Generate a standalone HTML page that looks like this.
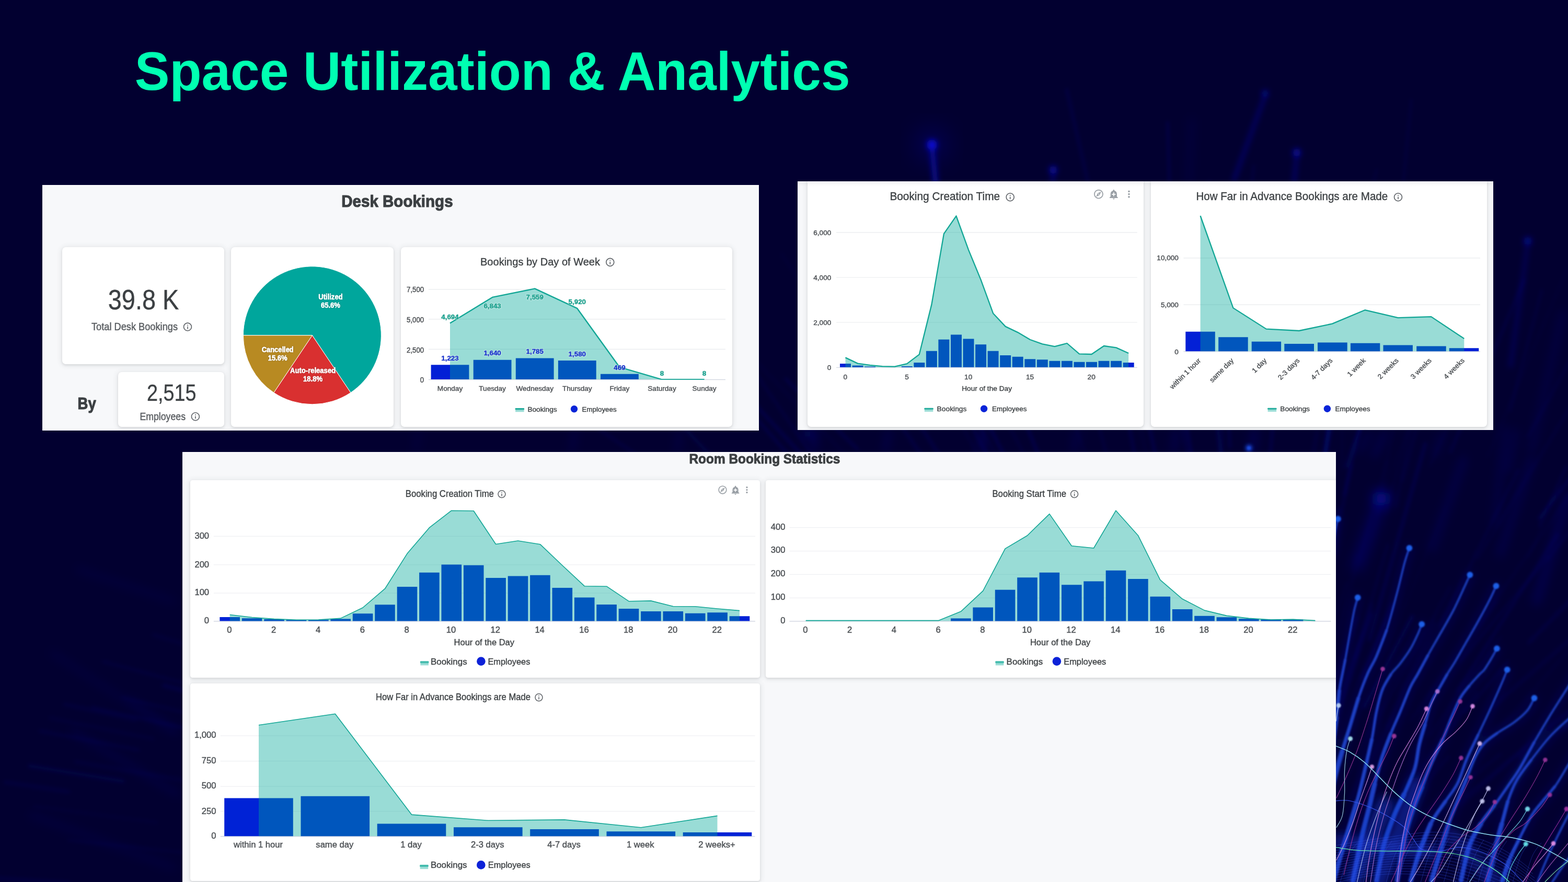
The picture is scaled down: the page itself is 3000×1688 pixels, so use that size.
<!DOCTYPE html>
<html lang="en"><head><meta charset="utf-8"><title>Space Utilization &amp; Analytics</title>
<style>
html,body{margin:0;padding:0;background:#020030;}
body{width:3000px;height:1688px;font-family:"Liberation Sans", Arial, sans-serif;}
#stage{width:3000px;height:1688px;overflow:hidden;position:relative;background:#020030;}
.panel{position:absolute;background:#f7f8fa;overflow:hidden;}
.panel:after{content:"";position:absolute;left:0;top:0;right:0;bottom:0;box-shadow:inset 3px 3px 3px -1px rgba(255,255,255,.55);pointer-events:none;}
.card{position:absolute;background:#fff;border-radius:7px;box-shadow:0 2px 4px rgba(60,64,67,.13),0 1px 10px 3px rgba(60,64,67,.075);}
svg{position:absolute;left:0;top:0;}
svg text{font-family:"Liberation Sans",Arial,sans-serif;}
.p3 text:not([stroke]){stroke:#3c4043;stroke-width:.55px;stroke-opacity:.65;}
.p12 text:not([stroke]){stroke:#3c4043;stroke-width:.5px;stroke-opacity:.7;}
h1{position:absolute;margin:0;left:257.7px;top:80.2px;font-size:100px;line-height:115px;font-weight:bold;color:#00ffb2;white-space:nowrap;letter-spacing:0;transform:scaleY(1.033);transform-origin:0 92.15px;}
</style></head><body><div id="stage">
<svg width="3000" height="1688" viewBox="0 0 3000 1688" style="position:absolute;left:0;top:0">
<defs><filter id="b1" x="-50%" y="-50%" width="200%" height="200%"><feGaussianBlur stdDeviation="1.1"/></filter><filter id="b15" x="-50%" y="-50%" width="200%" height="200%"><feGaussianBlur stdDeviation="1.5"/></filter><filter id="b3" x="-50%" y="-50%" width="200%" height="200%"><feGaussianBlur stdDeviation="3.5"/></filter><filter id="b6" x="-50%" y="-50%" width="200%" height="200%"><feGaussianBlur stdDeviation="5.5"/></filter><filter id="b12" x="-100%" y="-100%" width="300%" height="300%"><feGaussianBlur stdDeviation="12"/></filter><filter id="b8" x="-50%" y="-50%" width="200%" height="200%"><feGaussianBlur stdDeviation="9"/></filter><filter id="b20" x="-50%" y="-50%" width="200%" height="200%"><feGaussianBlur stdDeviation="22"/></filter><filter id="b08" x="-50%" y="-50%" width="200%" height="200%"><feGaussianBlur stdDeviation="0.8"/></filter><filter id="b05" x="-50%" y="-50%" width="200%" height="200%"><feGaussianBlur stdDeviation="0.5"/></filter></defs>
<g filter="url(#b3)" fill="none" stroke="#1a22d4" stroke-linecap="round">
<path d="M2146 976L2042 593" stroke-width="3.8" stroke-opacity="0.11"/>
<path d="M1730 1308L1482 1124" stroke-width="5.5" stroke-opacity="0.06"/>
<path d="M1365 1327L1091 1143" stroke-width="1.7" stroke-opacity="0.17"/>
<path d="M2568 899L2567 730" stroke-width="1.6" stroke-opacity="0.11"/>
<path d="M1945 1472L1855 1378" stroke-width="3.8" stroke-opacity="0.10"/>
<path d="M2271 868L2219 603" stroke-width="4.8" stroke-opacity="0.10"/>
<path d="M2145 1516L1928 1242" stroke-width="3.5" stroke-opacity="0.15"/>
<path d="M2993 1394L3097 1298" stroke-width="4.6" stroke-opacity="0.14"/>
<path d="M1788 1547L1414 1381" stroke-width="5.3" stroke-opacity="0.06"/>
<path d="M2039 1657L1721 1490" stroke-width="2.4" stroke-opacity="0.12"/>
<path d="M1569 1158L1442 1060" stroke-width="4.7" stroke-opacity="0.06"/>
<path d="M1944 1430L1658 1134" stroke-width="5.5" stroke-opacity="0.09"/>
<path d="M1850 1348L1595 1071" stroke-width="4.7" stroke-opacity="0.06"/>
<path d="M1953 1437L1678 1217" stroke-width="3.1" stroke-opacity="0.09"/>
<path d="M1567 1431L1393 1347" stroke-width="4.5" stroke-opacity="0.09"/>
<path d="M3036 1311L3243 1104" stroke-width="5.8" stroke-opacity="0.07"/>
<path d="M1412 1005L1094 785" stroke-width="4.5" stroke-opacity="0.10"/>
<path d="M1167 1400L997 1307" stroke-width="5.0" stroke-opacity="0.08"/>
<path d="M2429 1207L2423 1034" stroke-width="5.1" stroke-opacity="0.06"/>
<path d="M2352 649L2313 346" stroke-width="2.9" stroke-opacity="0.16"/>
<path d="M1808 1667L1564 1599" stroke-width="1.8" stroke-opacity="0.07"/>
<path d="M2395 1368L2399 1140" stroke-width="6.0" stroke-opacity="0.17"/>
<path d="M2640 947L2707 797" stroke-width="1.7" stroke-opacity="0.05"/>
<path d="M2765 589L2819 473" stroke-width="4.7" stroke-opacity="0.11"/>
<path d="M1654 725L1606 587" stroke-width="4.2" stroke-opacity="0.14"/>
<path d="M2775 865L2916 536" stroke-width="6.1" stroke-opacity="0.09"/>
<path d="M2480 1122L2520 830" stroke-width="4.5" stroke-opacity="0.06"/>
<path d="M2038 718L2002 577" stroke-width="5.3" stroke-opacity="0.05"/>
<path d="M2275 1283L2226 957" stroke-width="4.0" stroke-opacity="0.12"/>
<path d="M2159 1580L2011 1431" stroke-width="4.9" stroke-opacity="0.07"/>
<path d="M1809 1340L1530 1109" stroke-width="6.1" stroke-opacity="0.16"/>
<path d="M2409 1184L2429 1023" stroke-width="4.0" stroke-opacity="0.15"/>
<path d="M2790 610L2832 410" stroke-width="2.3" stroke-opacity="0.10"/>
<path d="M1840 1331L1629 1106" stroke-width="4.0" stroke-opacity="0.09"/>
<path d="M3038 1363L3135 1257" stroke-width="1.7" stroke-opacity="0.15"/>
<path d="M2671 970L2710 760" stroke-width="5.5" stroke-opacity="0.05"/>
<path d="M2298 1490L2177 1141" stroke-width="2.7" stroke-opacity="0.07"/>
<path d="M2494 1059L2561 756" stroke-width="4.8" stroke-opacity="0.15"/>
<path d="M2533 1317L2595 1062" stroke-width="2.4" stroke-opacity="0.05"/>
<path d="M2562 1346L2625 1155" stroke-width="3.2" stroke-opacity="0.13"/>
<path d="M2494 748L2481 508" stroke-width="5.5" stroke-opacity="0.16"/>
<path d="M1997 1024L1826 681" stroke-width="5.5" stroke-opacity="0.16"/>
<path d="M2493 1303L2561 973" stroke-width="5.6" stroke-opacity="0.13"/>
<path d="M1482 1002L1197 700" stroke-width="6.4" stroke-opacity="0.11"/>
<path d="M1707 797L1495 486" stroke-width="3.2" stroke-opacity="0.06"/>
<path d="M2332 734L2280 471" stroke-width="1.6" stroke-opacity="0.15"/>
<path d="M2653 1393L2746 1192" stroke-width="5.4" stroke-opacity="0.07"/>
<path d="M2253 786L2202 418" stroke-width="4.9" stroke-opacity="0.16"/>
<path d="M2726 1560L2871 1443" stroke-width="4.1" stroke-opacity="0.08"/>
<path d="M2522 986L2566 615" stroke-width="4.3" stroke-opacity="0.09"/>
<path d="M2395 1299L2369 1019" stroke-width="4.0" stroke-opacity="0.12"/>
<path d="M2506 1448L2596 1180" stroke-width="3.6" stroke-opacity="0.16"/>
<path d="M1871 1219L1787 1083" stroke-width="3.7" stroke-opacity="0.15"/>
<path d="M2249 1200L2191 1032" stroke-width="4.6" stroke-opacity="0.16"/>
<path d="M2565 1516L2639 1353" stroke-width="2.6" stroke-opacity="0.13"/>
<path d="M1933 1000L1860 867" stroke-width="5.2" stroke-opacity="0.06"/>
<path d="M2030 1446L1839 1243" stroke-width="3.7" stroke-opacity="0.10"/>
<path d="M2345 1343L2327 1163" stroke-width="4.7" stroke-opacity="0.13"/>
<path d="M2961 1069L3201 777" stroke-width="2.7" stroke-opacity="0.14"/>
<path d="M2849 1358L3012 1217" stroke-width="6.1" stroke-opacity="0.08"/>
<path d="M2714 1481L2825 1325" stroke-width="5.1" stroke-opacity="0.08"/>
<path d="M2822 1204L3028 912" stroke-width="2.1" stroke-opacity="0.10"/>
<path d="M1874 1686L1558 1609" stroke-width="6.1" stroke-opacity="0.17"/>
<path d="M2222 756L2143 495" stroke-width="4.9" stroke-opacity="0.07"/>
<path d="M2060 1663L1804 1538" stroke-width="4.1" stroke-opacity="0.12"/>
<path d="M1969 1501L1666 1285" stroke-width="6.5" stroke-opacity="0.16"/>
<path d="M1202 1340L963 1242" stroke-width="5.3" stroke-opacity="0.09"/>
<path d="M2291 1078L2272 777" stroke-width="1.6" stroke-opacity="0.13"/>
<path d="M1771 1349L1490 1154" stroke-width="3.5" stroke-opacity="0.07"/>
<path d="M2347 1488L2307 1102" stroke-width="5.5" stroke-opacity="0.13"/>
<path d="M2490 1101L2544 806" stroke-width="4.0" stroke-opacity="0.17"/>
<path d="M1565 904L1332 653" stroke-width="5.4" stroke-opacity="0.15"/>
<path d="M2537 1452L2603 1240" stroke-width="3.8" stroke-opacity="0.05"/>
<path d="M2536 886L2551 696" stroke-width="6.2" stroke-opacity="0.13"/>
<path d="M2572 947L2634 674" stroke-width="3.4" stroke-opacity="0.17"/>
<path d="M2709 782L2846 391" stroke-width="1.6" stroke-opacity="0.12"/>
<path d="M1901 1288L1795 1202" stroke-width="2.5" stroke-opacity="0.10"/>
<path d="M1554 923L1366 708" stroke-width="4.0" stroke-opacity="0.17"/>
<path d="M1204 1394L1047 1335" stroke-width="3.9" stroke-opacity="0.07"/>
<path d="M2432 1443L2468 1041" stroke-width="3.6" stroke-opacity="0.11"/>
<path d="M2107 1286L1972 999" stroke-width="4.3" stroke-opacity="0.08"/>
<path d="M2183 1557L2075 1397" stroke-width="1.7" stroke-opacity="0.07"/>
<path d="M1887 713L1784 382" stroke-width="1.8" stroke-opacity="0.17"/>
<path d="M1258 1328L1022 1246" stroke-width="3.9" stroke-opacity="0.17"/>
<path d="M2244 572L2234 234" stroke-width="3.8" stroke-opacity="0.17"/>
<path d="M2428 1386L2426 1078" stroke-width="3.8" stroke-opacity="0.07"/>
<path d="M2348 1379L2309 1128" stroke-width="4.8" stroke-opacity="0.10"/>
<path d="M2409 1081L2444 728" stroke-width="4.2" stroke-opacity="0.17"/>
<path d="M2606 1299L2665 1156" stroke-width="6.0" stroke-opacity="0.14"/>
<path d="M2105 1303L1958 1013" stroke-width="4.3" stroke-opacity="0.12"/>
<path d="M2610 1353L2702 1180" stroke-width="6.4" stroke-opacity="0.16"/>
<path d="M2014 1709L1820 1653" stroke-width="3.6" stroke-opacity="0.12"/>
<path d="M2366 1429L2359 1283" stroke-width="4.9" stroke-opacity="0.12"/>
<path d="M2030 1108L1967 935" stroke-width="3.2" stroke-opacity="0.14"/>
<path d="M1973 1654L1638 1516" stroke-width="4.6" stroke-opacity="0.14"/>
<path d="M2194 1278L2097 927" stroke-width="3.3" stroke-opacity="0.13"/>
<path d="M1915 1094L1721 810" stroke-width="6.1" stroke-opacity="0.10"/>
<path d="M1314 1282L1187 1217" stroke-width="1.9" stroke-opacity="0.12"/>
<path d="M2558 1221L2653 881" stroke-width="1.9" stroke-opacity="0.08"/>
<path d="M1810 1567L1497 1441" stroke-width="5.0" stroke-opacity="0.08"/>
<path d="M1887 904L1782 700" stroke-width="2.1" stroke-opacity="0.14"/>
<path d="M1984 1226L1754 899" stroke-width="6.0" stroke-opacity="0.08"/>
<path d="M2071 1217L1964 1004" stroke-width="3.4" stroke-opacity="0.07"/>
<path d="M2827 1068L3021 752" stroke-width="4.3" stroke-opacity="0.07"/>
<path d="M2802 1363L2885 1267" stroke-width="4.1" stroke-opacity="0.12"/>
<path d="M2012 1661L1708 1507" stroke-width="6.0" stroke-opacity="0.06"/>
<path d="M1488 1242L1239 1049" stroke-width="2.7" stroke-opacity="0.08"/>
<path d="M2260 744L2244 506" stroke-width="3.2" stroke-opacity="0.17"/>
<path d="M2233 978L2164 649" stroke-width="5.0" stroke-opacity="0.16"/>
<path d="M2945 992L3174 692" stroke-width="5.5" stroke-opacity="0.15"/>
<path d="M2228 1385L2093 1070" stroke-width="6.5" stroke-opacity="0.10"/>
<path d="M1820 1336L1657 1207" stroke-width="6.3" stroke-opacity="0.06"/>
<path d="M1535 1352L1228 1179" stroke-width="2.4" stroke-opacity="0.06"/>
<path d="M2420 591L2399 460" stroke-width="2.0" stroke-opacity="0.07"/>
<path d="M1653 1087L1432 887" stroke-width="2.6" stroke-opacity="0.07"/>
<path d="M1520 1177L1350 1048" stroke-width="4.2" stroke-opacity="0.15"/>
<path d="M1586 918L1361 592" stroke-width="3.2" stroke-opacity="0.12"/>
<path d="M2279 1292L2245 1161" stroke-width="6.2" stroke-opacity="0.15"/>
<path d="M2303 990L2264 791" stroke-width="6.5" stroke-opacity="0.13"/>
<path d="M1611 1618L1391 1546" stroke-width="5.5" stroke-opacity="0.14"/>
<path d="M1987 1556L1811 1430" stroke-width="2.8" stroke-opacity="0.15"/>
<path d="M2582 519L2634 325" stroke-width="4.2" stroke-opacity="0.07"/>
<path d="M1269 1543L903 1466" stroke-width="5.6" stroke-opacity="0.06"/>
<path d="M2539 1425L2625 1175" stroke-width="3.8" stroke-opacity="0.16"/>
<path d="M2788 1324L2980 1023" stroke-width="3.6" stroke-opacity="0.16"/>
<path d="M2699 1379L2865 1149" stroke-width="4.1" stroke-opacity="0.07"/>
<path d="M2026 1306L1953 1182" stroke-width="3.0" stroke-opacity="0.11"/>
<path d="M1909 936L1867 787" stroke-width="3.5" stroke-opacity="0.11"/>
<path d="M2945 1007L2997 893" stroke-width="3.4" stroke-opacity="0.14"/>
<path d="M2377 1042L2357 920" stroke-width="6.5" stroke-opacity="0.15"/>
<path d="M2457 1212L2469 980" stroke-width="4.2" stroke-opacity="0.09"/>
<path d="M1986 921L1895 747" stroke-width="2.5" stroke-opacity="0.14"/>
<path d="M2029 1606L1756 1432" stroke-width="5.0" stroke-opacity="0.07"/>
<path d="M2924 1067L2986 931" stroke-width="2.6" stroke-opacity="0.07"/>
<path d="M2241 1458L2098 1089" stroke-width="3.6" stroke-opacity="0.11"/>
<path d="M2889 786L2950 555" stroke-width="3.2" stroke-opacity="0.10"/>
<path d="M1991 883L1839 497" stroke-width="5.4" stroke-opacity="0.13"/>
<path d="M1750 1646L1536 1586" stroke-width="4.8" stroke-opacity="0.06"/>
<path d="M2226 725L2194 358" stroke-width="4.6" stroke-opacity="0.07"/>
<path d="M3006 1187L3168 1030" stroke-width="4.0" stroke-opacity="0.07"/>
<path d="M2462 1306L2487 1163" stroke-width="2.7" stroke-opacity="0.12"/>
<path d="M1718 768L1633 552" stroke-width="3.8" stroke-opacity="0.06"/>
<path d="M1344 1174L1094 1040" stroke-width="4.3" stroke-opacity="0.12"/>
<path d="M1641 860L1503 725" stroke-width="4.4" stroke-opacity="0.15"/>
<path d="M2372 1425L2378 1295" stroke-width="2.4" stroke-opacity="0.17"/>
<path d="M2521 1204L2585 889" stroke-width="5.2" stroke-opacity="0.10"/>
<path d="M2580 1531L2666 1373" stroke-width="3.8" stroke-opacity="0.07"/>
<path d="M2391 1326L2379 1051" stroke-width="2.8" stroke-opacity="0.12"/>
<path d="M2457 1466L2508 1149" stroke-width="2.2" stroke-opacity="0.17"/>
<path d="M2217 1111L2159 809" stroke-width="4.9" stroke-opacity="0.14"/>
<path d="M2124 534L2041 172" stroke-width="5.8" stroke-opacity="0.10"/>
<path d="M2369 595L2399 317" stroke-width="4.1" stroke-opacity="0.10"/>
<path d="M2178 1512L1996 1227" stroke-width="6.0" stroke-opacity="0.14"/>
<path d="M2653 1246L2766 970" stroke-width="1.8" stroke-opacity="0.06"/>
<path d="M2275 1114L2238 983" stroke-width="5.0" stroke-opacity="0.11"/>
<path d="M1970 1241L1882 1070" stroke-width="1.8" stroke-opacity="0.16"/>
<path d="M2643 658L2714 421" stroke-width="5.5" stroke-opacity="0.08"/>
<path d="M2371 597L2371 447" stroke-width="5.5" stroke-opacity="0.06"/>
<path d="M2663 1618L2798 1480" stroke-width="3.0" stroke-opacity="0.09"/>
<path d="M1220 1443L1033 1334" stroke-width="4.0" stroke-opacity="0.16"/>
<path d="M2270 1309L2207 1110" stroke-width="6.1" stroke-opacity="0.16"/>
<path d="M2793 1266L2963 1065" stroke-width="2.4" stroke-opacity="0.16"/>
<path d="M1662 1202L1510 1106" stroke-width="5.9" stroke-opacity="0.06"/>
<path d="M2620 1224L2727 849" stroke-width="5.8" stroke-opacity="0.14"/>
<path d="M2744 609L2794 360" stroke-width="1.9" stroke-opacity="0.08"/>
<path d="M2563 1328L2627 1166" stroke-width="2.7" stroke-opacity="0.13"/>
<path d="M1947 945L1760 608" stroke-width="4.4" stroke-opacity="0.08"/>
<path d="M2132 1014L2033 752" stroke-width="1.7" stroke-opacity="0.12"/>
<path d="M1623 998L1510 904" stroke-width="2.9" stroke-opacity="0.14"/>
<path d="M1838 1149L1705 1031" stroke-width="6.0" stroke-opacity="0.17"/>
<path d="M2115 787L2030 566" stroke-width="6.1" stroke-opacity="0.11"/>
<path d="M2353 856L2343 628" stroke-width="4.8" stroke-opacity="0.14"/>
<path d="M2207 670L2126 354" stroke-width="4.1" stroke-opacity="0.16"/>
<path d="M2629 1388L2775 1123" stroke-width="2.7" stroke-opacity="0.10"/>
<path d="M2923 836L3016 669" stroke-width="3.9" stroke-opacity="0.08"/>
<path d="M2332 1471L2295 1174" stroke-width="5.1" stroke-opacity="0.12"/>
<path d="M2007 1538L1907 1462" stroke-width="4.0" stroke-opacity="0.10"/>
<path d="M1649 981L1559 871" stroke-width="6.0" stroke-opacity="0.12"/>
<path d="M2675 1330L2744 1182" stroke-width="3.1" stroke-opacity="0.06"/>
<path d="M2488 979L2528 783" stroke-width="4.4" stroke-opacity="0.06"/>
<path d="M1919 1483L1793 1371" stroke-width="5.0" stroke-opacity="0.15"/>
<path d="M1700 1553L1478 1489" stroke-width="2.6" stroke-opacity="0.17"/>
<path d="M2181 761L2121 349" stroke-width="2.2" stroke-opacity="0.10"/>
<path d="M1845 1647L1478 1525" stroke-width="2.2" stroke-opacity="0.10"/>
<path d="M2255 1449L2219 1324" stroke-width="6.5" stroke-opacity="0.14"/>
<path d="M1973 1424L1787 1207" stroke-width="2.7" stroke-opacity="0.11"/>
<path d="M2081 1242L1883 878" stroke-width="4.6" stroke-opacity="0.05"/>
<path d="M2467 1447L2507 1228" stroke-width="5.0" stroke-opacity="0.15"/>
<path d="M2925 1230L3092 1060" stroke-width="5.7" stroke-opacity="0.10"/>
<path d="M1890 1374L1751 1266" stroke-width="4.2" stroke-opacity="0.07"/>
<path d="M1801 1294L1653 1141" stroke-width="3.7" stroke-opacity="0.17"/>
<path d="M2735 1408L2872 1217" stroke-width="1.9" stroke-opacity="0.13"/>
<path d="M2166 1565L2067 1421" stroke-width="2.8" stroke-opacity="0.10"/>
<path d="M2591 1262L2655 1042" stroke-width="2.3" stroke-opacity="0.16"/>
<path d="M2846 874L2999 513" stroke-width="1.6" stroke-opacity="0.09"/>
<path d="M1291 1313L1078 1254" stroke-width="5.4" stroke-opacity="0.11"/>
<path d="M2163 1312L2091 1199" stroke-width="2.3" stroke-opacity="0.12"/>
<path d="M1963 1211L1790 986" stroke-width="2.2" stroke-opacity="0.13"/>
<path d="M2736 891L2805 741" stroke-width="2.5" stroke-opacity="0.08"/>
<path d="M2120 1169L1967 821" stroke-width="2.6" stroke-opacity="0.09"/>
<path d="M2114 1583L2028 1489" stroke-width="4.7" stroke-opacity="0.12"/>
<path d="M2910 1449L3169 1260" stroke-width="6.1" stroke-opacity="0.08"/>
<path d="M2664 572L2700 191" stroke-width="2.7" stroke-opacity="0.13"/>
<path d="M2153 1150L2107 1020" stroke-width="3.4" stroke-opacity="0.09"/>
<path d="M2083 1453L1938 1260" stroke-width="3.9" stroke-opacity="0.07"/>
<path d="M2093 1530L1941 1368" stroke-width="3.6" stroke-opacity="0.07"/>
<path d="M2652 983L2734 663" stroke-width="1.6" stroke-opacity="0.10"/>
<path d="M1707 1553L1581 1501" stroke-width="4.0" stroke-opacity="0.12"/>
<path d="M2074 1342L2008 1234" stroke-width="3.2" stroke-opacity="0.16"/>
<path d="M1733 1081L1642 927" stroke-width="3.8" stroke-opacity="0.12"/>
<path d="M1967 1031L1788 671" stroke-width="5.4" stroke-opacity="0.13"/>
<path d="M2118 1138L2038 952" stroke-width="5.6" stroke-opacity="0.16"/>
<path d="M2666 1567L2773 1447" stroke-width="4.0" stroke-opacity="0.09"/>
<path d="M2794 1542L2927 1424" stroke-width="2.6" stroke-opacity="0.13"/>
<path d="M1537 1617L1310 1545" stroke-width="2.7" stroke-opacity="0.11"/>
<path d="M2336 878L2305 591" stroke-width="5.7" stroke-opacity="0.17"/>
<path d="M1783 779L1690 585" stroke-width="5.1" stroke-opacity="0.13"/>
<path d="M2112 1283L1942 983" stroke-width="4.2" stroke-opacity="0.08"/>
<path d="M2114 1406L1949 1187" stroke-width="2.1" stroke-opacity="0.06"/>
<path d="M1471 1350L1335 1278" stroke-width="3.8" stroke-opacity="0.14"/>
<path d="M1418 1133L1110 908" stroke-width="1.8" stroke-opacity="0.08"/>
<path d="M2755 1198L2905 899" stroke-width="2.8" stroke-opacity="0.14"/>
<path d="M1819 905L1617 591" stroke-width="5.6" stroke-opacity="0.12"/>
<path d="M2683 919L2781 563" stroke-width="5.5" stroke-opacity="0.07"/>
<path d="M2521 1282L2577 1115" stroke-width="1.6" stroke-opacity="0.12"/>
<path d="M2777 1547L3028 1338" stroke-width="3.6" stroke-opacity="0.13"/>
<path d="M1737 996L1447 692" stroke-width="2.1" stroke-opacity="0.09"/>
<path d="M2335 1019L2339 787" stroke-width="3.0" stroke-opacity="0.15"/>
<path d="M1942 1266L1748 1031" stroke-width="5.3" stroke-opacity="0.17"/>
<path d="M2635 986L2701 631" stroke-width="2.2" stroke-opacity="0.07"/>
<path d="M2835 1435L3011 1233" stroke-width="2.1" stroke-opacity="0.09"/>
<path d="M2388 1357L2379 1049" stroke-width="2.9" stroke-opacity="0.08"/>
<path d="M2119 1309L2049 1193" stroke-width="1.8" stroke-opacity="0.16"/>
<path d="M1918 1623L1686 1495" stroke-width="6.5" stroke-opacity="0.07"/>
<path d="M2240 1102L2168 747" stroke-width="3.5" stroke-opacity="0.06"/>
<path d="M2576 893L2646 700" stroke-width="6.2" stroke-opacity="0.15"/>
<path d="M2046 720L1917 408" stroke-width="2.4" stroke-opacity="0.05"/>
<path d="M2034 1635L1838 1519" stroke-width="5.3" stroke-opacity="0.09"/>
<path d="M1863 1692L1477 1560" stroke-width="1.6" stroke-opacity="0.11"/>
<path d="M235 1495L57 1466" stroke-width="7.0" stroke-opacity="0.11"/>
<path d="M130 1515L11 1497" stroke-width="7.8" stroke-opacity="0.07"/>
<path d="M411 1638L131 1608" stroke-width="3.1" stroke-opacity="0.09"/>
<path d="M387 2263L216 2298" stroke-width="6.3" stroke-opacity="0.10"/>
<path d="M259 2094L89 2114" stroke-width="4.4" stroke-opacity="0.11"/>
<path d="M482 2123L316 2147" stroke-width="6.7" stroke-opacity="0.06"/>
<path d="M300 1574L66 1543" stroke-width="3.9" stroke-opacity="0.05"/>
<path d="M427 2368L247 2415" stroke-width="3.0" stroke-opacity="0.08"/>
<path d="M379 2029L173 2048" stroke-width="7.8" stroke-opacity="0.06"/>
<path d="M420 1408L176 1354" stroke-width="3.5" stroke-opacity="0.12"/>
<path d="M121 2013L-23 2023" stroke-width="5.0" stroke-opacity="0.10"/>
<path d="M446 2316L217 2371" stroke-width="7.7" stroke-opacity="0.07"/>
<path d="M411 2317L121 2385" stroke-width="3.7" stroke-opacity="0.09"/>
<path d="M254 2076L113 2091" stroke-width="6.1" stroke-opacity="0.11"/>
<path d="M293 1414L96 1374" stroke-width="5.8" stroke-opacity="0.05"/>
<path d="M264 1435L77 1399" stroke-width="6.3" stroke-opacity="0.07"/>
<path d="M418 2050L199 2072" stroke-width="5.9" stroke-opacity="0.08"/>
<path d="M364 2543L185 2605" stroke-width="6.0" stroke-opacity="0.09"/>
<path d="M501 1360L314 1312" stroke-width="8.0" stroke-opacity="0.10"/>
<path d="M229 2171L-66 2215" stroke-width="5.0" stroke-opacity="0.11"/>
<path d="M185 2456L-6 2509" stroke-width="4.2" stroke-opacity="0.11"/>
<path d="M131 1690L-135 1672" stroke-width="7.0" stroke-opacity="0.08"/>
<path d="M556 1294L294 1215" stroke-width="6.6" stroke-opacity="0.06"/>
<path d="M349 1493L145 1458" stroke-width="7.3" stroke-opacity="0.06"/>
<path d="M273 2212L160 2231" stroke-width="5.8" stroke-opacity="0.10"/>
<path d="M404 1914L144 1923" stroke-width="7.3" stroke-opacity="0.10"/>
<path d="M138 1837L-122 1836" stroke-width="3.8" stroke-opacity="0.07"/>
<path d="M562 2387L400 2434" stroke-width="7.3" stroke-opacity="0.11"/>
<path d="M501 2382L329 2430" stroke-width="7.2" stroke-opacity="0.09"/>
<path d="M523 1404L234 1335" stroke-width="4.0" stroke-opacity="0.09"/>
<path d="M260 1378L124 1348" stroke-width="6.3" stroke-opacity="0.07"/>
<path d="M480 2527L326 2582" stroke-width="6.1" stroke-opacity="0.06"/>
<path d="M224 1762L88 1757" stroke-width="3.6" stroke-opacity="0.10"/>
<path d="M451 1943L328 1949" stroke-width="7.7" stroke-opacity="0.09"/>
<path d="M435 2083L138 2119" stroke-width="6.5" stroke-opacity="0.10"/>
<path d="M390 2085L209 2106" stroke-width="3.7" stroke-opacity="0.09"/>
<path d="M178 2016L-3 2030" stroke-width="5.3" stroke-opacity="0.08"/>
<path d="M429 1328L197 1266" stroke-width="4.2" stroke-opacity="0.09"/>
<path d="M182 2220L26 2245" stroke-width="7.3" stroke-opacity="0.09"/>
<path d="M130 1976L-47 1985" stroke-width="6.7" stroke-opacity="0.09"/>
</g>
<g filter="url(#b8)" fill="none">
<circle cx="1545" cy="830" r="10" fill="#1418d8" fill-opacity="0.25"/>
<path d="M2280 230L2275 350" stroke="#1418d0" stroke-width="8" stroke-opacity="0.12" stroke-linecap="round"/>
<path d="M2800 880L2740 1050" stroke="#1418d0" stroke-width="14" stroke-opacity="0.14" stroke-linecap="round"/>
<path d="M2930 880L2870 1060" stroke="#1418d0" stroke-width="14" stroke-opacity="0.14" stroke-linecap="round"/>
<path d="M3000 950L2940 1150" stroke="#1418d0" stroke-width="18" stroke-opacity="0.16" stroke-linecap="round"/>
<path d="M2880 820L2860 1000" stroke="#1418d0" stroke-width="12" stroke-opacity="0.12" stroke-linecap="round"/>
<path d="M2650 830L2630 870" stroke="#1418d0" stroke-width="12" stroke-opacity="0.16" stroke-linecap="round"/>
<path d="M2760 830L2745 870" stroke="#1418d0" stroke-width="10" stroke-opacity="0.14" stroke-linecap="round"/>
<path d="M2990 600L2930 860" stroke="#1418d0" stroke-width="12" stroke-opacity="0.12" stroke-linecap="round"/>
<path d="M1560 826L1556 862" stroke="#1418d0" stroke-width="10" stroke-opacity="0.2" stroke-linecap="round"/>
<path d="M1700 826L1694 862" stroke="#1418d0" stroke-width="10" stroke-opacity="0.16" stroke-linecap="round"/>
<path d="M1880 826L1876 862" stroke="#1418d0" stroke-width="10" stroke-opacity="0.18" stroke-linecap="round"/>
<path d="M2060 826L2056 862" stroke="#1418d0" stroke-width="10" stroke-opacity="0.16" stroke-linecap="round"/>
<path d="M2250 826L2246 862" stroke="#1418d0" stroke-width="10" stroke-opacity="0.18" stroke-linecap="round"/>
<path d="M2400 826L2396 862" stroke="#1418d0" stroke-width="12" stroke-opacity="0.2" stroke-linecap="round"/>
<path d="M1100 826L1094 862" stroke="#1418d0" stroke-width="10" stroke-opacity="0.12" stroke-linecap="round"/>
<path d="M1300 826L1296 862" stroke="#1418d0" stroke-width="10" stroke-opacity="0.12" stroke-linecap="round"/>
<path d="M800 826L796 862" stroke="#1418d0" stroke-width="10" stroke-opacity="0.08" stroke-linecap="round"/>
<path d="M2620 830L2600 862" stroke="#1418d0" stroke-width="10" stroke-opacity="0.16" stroke-linecap="round"/>
<path d="M2900 826L2885 900" stroke="#1418d0" stroke-width="10" stroke-opacity="0.14" stroke-linecap="round"/>
<path d="M150 1090L330 1150" stroke="#1418d0" stroke-width="8" stroke-opacity="0.1" stroke-linecap="round"/>
<path d="M100 1250L330 1400" stroke="#1418d0" stroke-width="8" stroke-opacity="0.1" stroke-linecap="round"/>
<path d="M140 1400L340 1520" stroke="#1418d0" stroke-width="9" stroke-opacity="0.12" stroke-linecap="round"/>
<path d="M60 1560L330 1660" stroke="#1418d0" stroke-width="9" stroke-opacity="0.1" stroke-linecap="round"/>
<path d="M250 1340L340 1400" stroke="#1418d0" stroke-width="8" stroke-opacity="0.1" stroke-linecap="round"/>
</g>
<g filter="url(#b6)" fill="#0c12dc" stroke="#0c12dc" stroke-linecap="round">
<circle cx="1783" cy="277" r="10" fill-opacity="0.95" stroke="none"/>
<path d="M1783 281L1790 350" fill="none" stroke-width="10" stroke-opacity="0.55"/>
<circle cx="2015" cy="325" r="8" fill-opacity="0.55" stroke="none"/>
<path d="M2015 329L2014 350" fill="none" stroke-width="8" stroke-opacity="0.3"/>
<circle cx="2420.5" cy="178.6" r="7" fill-opacity="0.38" stroke="none"/>
<path d="M2420.5 182.6L2361 344" fill="none" stroke-width="7" stroke-opacity="0.32"/>
<circle cx="2481" cy="292" r="8" fill-opacity="0.55" stroke="none"/>
<path d="M2481 296L2476 348" fill="none" stroke-width="7" stroke-opacity="0.32"/>
<circle cx="2923" cy="461" r="8" fill-opacity="0.42" stroke="none"/>
<path d="M2923 465L2890 700" fill="none" stroke-width="8" stroke-opacity="0.2"/>
</g>
<circle cx="1783" cy="277" r="30" fill="#0c12dc" fill-opacity=".22" filter="url(#b20)"/>
<g filter="url(#b12)"><circle cx="2643" cy="954" r="13" fill="#1014cc" fill-opacity=".9"/><path d="M2640 965L2596 1085" stroke="#1014cc" stroke-width="14" stroke-opacity=".4" stroke-linecap="round" fill="none"/></g>
<circle cx="2389.5" cy="857.5" r="6.5" fill="#1a48e0" fill-opacity=".9" filter="url(#b3)"/>
<circle cx="2389.5" cy="857.5" r="3.6" fill="#1c50e4" fill-opacity=".7" filter="url(#b15)"/>
<g fill="none" stroke-linecap="round" stroke-linejoin="round">
<g filter="url(#b8)" stroke="#1426b8" stroke-opacity=".24" stroke-width="12">
<path d="M2597.7 1143.6C2596.6 1147.8 2593.5 1156.9 2590.9 1168.5C2588.4 1180.2 2585.3 1198.2 2582.4 1213.8C2579.6 1229.4 2576.3 1249.2 2573.9 1261.9C2571.6 1274.6 2570.2 1280.1 2568.3 1289.9C2566.4 1299.6 2564.5 1306.9 2562.6 1320.4C2560.7 1334.0 2559.3 1352.0 2557.0 1371.4C2554.6 1390.7 2551.3 1414.3 2548.5 1436.4C2545.7 1458.6 2541.4 1493.0 2540.0 1504.3"/>
<path d="M2696.4 1048.9C2694.9 1053.7 2691.0 1063.7 2687.1 1078.0C2683.2 1092.3 2678.6 1113.4 2673.0 1134.6C2667.3 1155.8 2659.8 1185.0 2653.2 1205.3C2646.6 1225.6 2639.5 1242.1 2633.4 1256.2C2627.2 1270.3 2622.0 1276.8 2616.4 1289.9C2610.7 1302.9 2605.1 1317.7 2599.4 1334.6C2593.7 1351.5 2587.6 1374.2 2582.4 1391.2C2577.2 1408.1 2572.5 1422.3 2568.3 1436.4C2564.0 1450.6 2561.2 1460.0 2557.0 1476.0C2552.7 1492.0 2545.2 1523.2 2542.8 1532.6"/>
<path d="M2720.2 1194.6C2718.9 1197.8 2716.2 1205.9 2712.6 1213.8C2708.9 1221.7 2704.1 1232.7 2698.4 1242.1C2692.8 1251.5 2684.7 1262.4 2678.6 1270.4C2672.5 1278.3 2667.3 1281.5 2661.6 1289.9C2656.0 1298.2 2649.4 1308.3 2644.7 1320.4C2640.0 1332.6 2636.7 1347.3 2633.4 1362.9C2630.1 1378.4 2628.6 1394.9 2624.9 1413.8C2621.1 1432.6 2615.4 1456.2 2610.7 1476.0C2606.0 1495.8 2601.8 1513.7 2596.6 1532.6C2591.4 1551.5 2585.3 1570.3 2579.6 1589.2C2573.9 1608.0 2567.3 1629.3 2562.6 1645.8C2557.9 1662.2 2553.2 1680.9 2551.3 1687.9"/>
<path d="M2812.4 1100.1C2810.9 1103.5 2808.4 1109.0 2803.1 1120.5C2797.8 1131.9 2788.5 1153.0 2780.5 1168.5C2772.4 1184.1 2763.0 1199.7 2755.0 1213.8C2747.0 1227.9 2739.4 1240.7 2732.4 1253.4C2725.3 1266.1 2718.2 1279.7 2712.6 1289.9C2706.9 1300.1 2704.1 1302.6 2698.4 1314.8C2692.8 1326.9 2684.7 1348.2 2678.6 1362.9C2672.5 1377.5 2667.3 1388.3 2661.6 1402.5C2656.0 1416.6 2649.9 1431.7 2644.7 1447.7C2639.5 1463.8 2634.8 1482.1 2630.5 1498.7C2626.3 1515.2 2623.5 1529.3 2619.2 1546.7C2615.0 1564.2 2610.2 1579.8 2605.1 1603.3C2599.9 1626.8 2590.9 1673.8 2588.1 1687.9"/>
<path d="M2862.5 1121.3C2860.6 1125.4 2856.8 1134.7 2851.2 1145.9C2845.5 1157.1 2836.1 1174.7 2828.5 1188.3C2821.0 1202.0 2813.5 1214.7 2805.9 1227.9C2798.4 1241.2 2789.4 1257.2 2783.3 1267.6C2777.2 1277.9 2773.9 1282.0 2769.1 1289.9C2764.4 1297.8 2760.2 1305.4 2755.0 1314.8C2749.8 1324.1 2742.7 1334.1 2738.0 1345.9C2733.3 1357.7 2730.5 1372.3 2726.7 1385.5C2722.9 1398.7 2718.7 1411.0 2715.4 1425.1C2712.1 1439.2 2711.6 1454.8 2706.9 1470.4C2702.2 1485.9 2693.7 1503.4 2687.1 1518.5C2680.5 1533.5 2673.9 1544.4 2667.3 1560.9C2660.7 1577.4 2653.2 1596.3 2647.5 1617.5C2641.8 1638.6 2635.7 1676.2 2633.4 1687.9"/>
<path d="M2863.9 1241.2C2862.3 1244.2 2858.0 1252.3 2854.0 1259.1C2850.0 1265.8 2843.6 1276.6 2839.9 1281.7C2836.1 1286.8 2836.1 1284.8 2831.4 1289.9C2826.7 1294.9 2817.7 1304.5 2811.6 1311.9C2805.4 1319.4 2800.3 1324.7 2794.6 1334.6C2788.9 1344.5 2783.3 1358.2 2777.6 1371.4C2772.0 1384.6 2767.3 1398.7 2760.7 1413.8C2754.0 1428.9 2744.6 1446.8 2738.0 1461.9C2731.4 1477.0 2726.7 1490.2 2721.0 1504.3C2715.4 1518.5 2709.7 1530.2 2704.1 1546.7C2698.4 1563.2 2692.3 1579.8 2687.1 1603.3C2681.9 1626.8 2675.3 1673.8 2673.0 1687.9"/>
<path d="M2883.7 1281.7C2882.1 1285.8 2879.2 1293.7 2873.8 1306.3C2868.4 1318.9 2858.7 1340.7 2851.2 1357.2C2843.6 1373.7 2836.1 1389.3 2828.5 1405.3C2821.0 1421.3 2812.5 1437.8 2805.9 1453.4C2799.3 1468.9 2795.5 1485.4 2788.9 1498.7C2782.3 1511.9 2774.8 1519.9 2766.3 1532.6C2757.8 1545.3 2746.5 1558.5 2738.0 1575.0C2729.5 1591.5 2722.0 1612.8 2715.4 1631.6C2708.8 1650.4 2701.2 1678.5 2698.4 1687.9"/>
<path d="M2935.5 1336.0C2933.2 1340.0 2928.4 1352.3 2921.9 1360.0C2915.4 1367.8 2905.9 1375.6 2896.4 1382.7C2887.0 1389.7 2874.7 1395.9 2865.3 1402.5C2855.9 1409.1 2846.9 1414.7 2839.9 1422.3C2832.8 1429.8 2828.5 1436.4 2822.9 1447.7C2817.2 1459.0 2811.6 1476.0 2805.9 1490.2C2800.3 1504.3 2794.6 1518.5 2788.9 1532.6C2783.3 1546.7 2777.6 1558.5 2772.0 1575.0C2766.3 1591.5 2760.7 1612.8 2755.0 1631.6C2749.3 1650.4 2740.8 1678.5 2738.0 1687.9"/>
<path d="M3015.2 1289.3C3012.7 1293.6 3008.5 1301.1 3000.0 1314.8C2991.5 1328.4 2975.0 1353.9 2964.3 1371.4C2953.7 1388.8 2945.5 1402.9 2936.0 1419.4C2926.6 1435.9 2916.2 1456.2 2907.8 1470.4C2899.3 1484.5 2893.1 1492.5 2885.1 1504.3C2877.1 1516.1 2868.1 1529.3 2859.7 1541.1C2851.2 1552.9 2842.2 1562.3 2834.2 1575.0C2826.2 1587.8 2818.2 1598.7 2811.6 1617.5C2805.0 1636.3 2797.4 1676.2 2794.6 1687.9"/>
<path d="M3018.1 1362.9C3015.1 1365.2 3008.9 1369.0 3000.0 1377.0C2991.0 1385.0 2975.9 1398.2 2964.3 1411.0C2952.7 1423.7 2940.8 1439.7 2930.4 1453.4C2920.0 1467.1 2909.6 1479.8 2902.1 1493.0C2894.5 1506.2 2889.8 1518.9 2885.1 1532.6C2880.4 1546.3 2877.6 1560.9 2873.8 1575.0C2870.0 1589.2 2867.2 1598.7 2862.5 1617.5C2857.8 1636.3 2848.3 1676.2 2845.5 1687.9"/>
<path d="M3015.2 1442.1C3012.7 1445.8 3006.6 1454.3 3000.0 1464.7C2993.4 1475.1 2984.4 1492.0 2975.6 1504.3C2966.9 1516.6 2954.9 1528.8 2947.4 1538.3C2939.8 1547.7 2937.0 1550.0 2930.4 1560.9C2923.8 1571.7 2914.8 1589.2 2907.8 1603.3C2900.7 1617.5 2893.6 1631.7 2887.9 1645.8C2882.3 1659.8 2876.2 1680.9 2873.8 1687.9"/>
<path d="M3015.2 1532.6C3012.7 1537.3 3006.1 1549.1 3000.0 1560.9C2993.8 1572.7 2985.4 1589.2 2978.5 1603.3C2971.6 1617.5 2964.8 1631.7 2958.7 1645.8C2952.5 1659.8 2944.5 1680.9 2941.7 1687.9"/>
<path d="M3015.2 1625.9C3011.5 1630.7 3000.2 1643.9 2992.6 1654.2C2985.1 1664.6 2973.8 1682.3 2970.0 1687.9"/>
<path d="M2559.8 993.2C2559.2 996.0 2558.0 998.9 2556.0 1010.0C2554.0 1021.1 2549.3 1051.7 2548.0 1060.0"/>
</g>
<g filter="url(#b15)" stroke="#1c40c4">
<path d="M2597.7 1143.6C2596.6 1147.8 2593.5 1156.9 2590.9 1168.5C2588.4 1180.2 2585.3 1198.2 2582.4 1213.8C2579.6 1229.4 2576.3 1249.2 2573.9 1261.9C2571.6 1274.6 2570.2 1280.1 2568.3 1289.9C2566.4 1299.6 2564.5 1306.9 2562.6 1320.4C2560.7 1334.0 2559.3 1352.0 2557.0 1371.4C2554.6 1390.7 2551.3 1414.3 2548.5 1436.4C2545.7 1458.6 2541.4 1493.0 2540.0 1504.3" stroke-width="3.9" stroke-opacity=".92"/>
<path d="M2573.9 1261.9C2573.0 1266.6 2570.2 1280.1 2568.3 1289.9C2566.4 1299.6 2564.5 1306.9 2562.6 1320.4C2560.7 1334.0 2559.3 1352.0 2557.0 1371.4C2554.6 1390.7 2551.3 1414.3 2548.5 1436.4C2545.7 1458.6 2541.4 1493.0 2540.0 1504.3" stroke-width="5.4" stroke-opacity=".8" stroke-linecap="butt"/>
<path d="M2562.6 1320.4C2561.7 1328.9 2559.3 1352.0 2557.0 1371.4C2554.6 1390.7 2551.3 1414.3 2548.5 1436.4C2545.7 1458.6 2541.4 1493.0 2540.0 1504.3" stroke-width="7.4" stroke-opacity=".75" stroke-linecap="butt"/>
<path d="M2557.0 1371.4C2555.6 1382.2 2551.3 1414.3 2548.5 1436.4C2545.7 1458.6 2541.4 1493.0 2540.0 1504.3" stroke-width="9.8" stroke-opacity=".7" stroke-linecap="butt"/>
<path d="M2696.4 1048.9C2694.9 1053.7 2691.0 1063.7 2687.1 1078.0C2683.2 1092.3 2678.6 1113.4 2673.0 1134.6C2667.3 1155.8 2659.8 1185.0 2653.2 1205.3C2646.6 1225.6 2639.5 1242.1 2633.4 1256.2C2627.2 1270.3 2622.0 1276.8 2616.4 1289.9C2610.7 1302.9 2605.1 1317.7 2599.4 1334.6C2593.7 1351.5 2587.6 1374.2 2582.4 1391.2C2577.2 1408.1 2572.5 1422.3 2568.3 1436.4C2564.0 1450.6 2561.2 1460.0 2557.0 1476.0C2552.7 1492.0 2545.2 1523.2 2542.8 1532.6" stroke-width="3.9" stroke-opacity=".92"/>
<path d="M2653.2 1205.3C2649.9 1213.8 2639.5 1242.1 2633.4 1256.2C2627.2 1270.3 2622.0 1276.8 2616.4 1289.9C2610.7 1302.9 2605.1 1317.7 2599.4 1334.6C2593.7 1351.5 2587.6 1374.2 2582.4 1391.2C2577.2 1408.1 2572.5 1422.3 2568.3 1436.4C2564.0 1450.6 2561.2 1460.0 2557.0 1476.0C2552.7 1492.0 2545.2 1523.2 2542.8 1532.6" stroke-width="5.4" stroke-opacity=".8" stroke-linecap="butt"/>
<path d="M2599.4 1334.6C2596.6 1344.0 2587.6 1374.2 2582.4 1391.2C2577.2 1408.1 2572.5 1422.3 2568.3 1436.4C2564.0 1450.6 2561.2 1460.0 2557.0 1476.0C2552.7 1492.0 2545.2 1523.2 2542.8 1532.6" stroke-width="7.4" stroke-opacity=".75" stroke-linecap="butt"/>
<path d="M2568.3 1436.4C2566.4 1443.0 2561.2 1460.0 2557.0 1476.0C2552.7 1492.0 2545.2 1523.2 2542.8 1532.6" stroke-width="9.8" stroke-opacity=".7" stroke-linecap="butt"/>
<path d="M2720.2 1194.6C2718.9 1197.8 2716.2 1205.9 2712.6 1213.8C2708.9 1221.7 2704.1 1232.7 2698.4 1242.1C2692.8 1251.5 2684.7 1262.4 2678.6 1270.4C2672.5 1278.3 2667.3 1281.5 2661.6 1289.9C2656.0 1298.2 2649.4 1308.3 2644.7 1320.4C2640.0 1332.6 2636.7 1347.3 2633.4 1362.9C2630.1 1378.4 2628.6 1394.9 2624.9 1413.8C2621.1 1432.6 2615.4 1456.2 2610.7 1476.0C2606.0 1495.8 2601.8 1513.7 2596.6 1532.6C2591.4 1551.5 2585.3 1570.3 2579.6 1589.2C2573.9 1608.0 2567.3 1629.3 2562.6 1645.8C2557.9 1662.2 2553.2 1680.9 2551.3 1687.9" stroke-width="3.9" stroke-opacity=".92"/>
<path d="M2661.6 1289.9C2658.8 1295.0 2649.4 1308.3 2644.7 1320.4C2640.0 1332.6 2636.7 1347.3 2633.4 1362.9C2630.1 1378.4 2628.6 1394.9 2624.9 1413.8C2621.1 1432.6 2615.4 1456.2 2610.7 1476.0C2606.0 1495.8 2601.8 1513.7 2596.6 1532.6C2591.4 1551.5 2585.3 1570.3 2579.6 1589.2C2573.9 1608.0 2567.3 1629.3 2562.6 1645.8C2557.9 1662.2 2553.2 1680.9 2551.3 1687.9" stroke-width="5.4" stroke-opacity=".8" stroke-linecap="butt"/>
<path d="M2624.9 1413.8C2622.5 1424.2 2615.4 1456.2 2610.7 1476.0C2606.0 1495.8 2601.8 1513.7 2596.6 1532.6C2591.4 1551.5 2585.3 1570.3 2579.6 1589.2C2573.9 1608.0 2567.3 1629.3 2562.6 1645.8C2557.9 1662.2 2553.2 1680.9 2551.3 1687.9" stroke-width="7.4" stroke-opacity=".75" stroke-linecap="butt"/>
<path d="M2596.6 1532.6C2593.7 1542.0 2585.3 1570.3 2579.6 1589.2C2573.9 1608.0 2567.3 1629.3 2562.6 1645.8C2557.9 1662.2 2553.2 1680.9 2551.3 1687.9" stroke-width="9.8" stroke-opacity=".7" stroke-linecap="butt"/>
<path d="M2812.4 1100.1C2810.9 1103.5 2808.4 1109.0 2803.1 1120.5C2797.8 1131.9 2788.5 1153.0 2780.5 1168.5C2772.4 1184.1 2763.0 1199.7 2755.0 1213.8C2747.0 1227.9 2739.4 1240.7 2732.4 1253.4C2725.3 1266.1 2718.2 1279.7 2712.6 1289.9C2706.9 1300.1 2704.1 1302.6 2698.4 1314.8C2692.8 1326.9 2684.7 1348.2 2678.6 1362.9C2672.5 1377.5 2667.3 1388.3 2661.6 1402.5C2656.0 1416.6 2649.9 1431.7 2644.7 1447.7C2639.5 1463.8 2634.8 1482.1 2630.5 1498.7C2626.3 1515.2 2623.5 1529.3 2619.2 1546.7C2615.0 1564.2 2610.2 1579.8 2605.1 1603.3C2599.9 1626.8 2590.9 1673.8 2588.1 1687.9" stroke-width="3.9" stroke-opacity=".92"/>
<path d="M2732.4 1253.4C2729.1 1259.5 2718.2 1279.7 2712.6 1289.9C2706.9 1300.1 2704.1 1302.6 2698.4 1314.8C2692.8 1326.9 2684.7 1348.2 2678.6 1362.9C2672.5 1377.5 2667.3 1388.3 2661.6 1402.5C2656.0 1416.6 2649.9 1431.7 2644.7 1447.7C2639.5 1463.8 2634.8 1482.1 2630.5 1498.7C2626.3 1515.2 2623.5 1529.3 2619.2 1546.7C2615.0 1564.2 2610.2 1579.8 2605.1 1603.3C2599.9 1626.8 2590.9 1673.8 2588.1 1687.9" stroke-width="5.4" stroke-opacity=".8" stroke-linecap="butt"/>
<path d="M2661.6 1402.5C2658.8 1410.0 2649.9 1431.7 2644.7 1447.7C2639.5 1463.8 2634.8 1482.1 2630.5 1498.7C2626.3 1515.2 2623.5 1529.3 2619.2 1546.7C2615.0 1564.2 2610.2 1579.8 2605.1 1603.3C2599.9 1626.8 2590.9 1673.8 2588.1 1687.9" stroke-width="7.4" stroke-opacity=".75" stroke-linecap="butt"/>
<path d="M2630.5 1498.7C2628.6 1506.7 2623.5 1529.3 2619.2 1546.7C2615.0 1564.2 2610.2 1579.8 2605.1 1603.3C2599.9 1626.8 2590.9 1673.8 2588.1 1687.9" stroke-width="9.8" stroke-opacity=".7" stroke-linecap="butt"/>
<path d="M2862.5 1121.3C2860.6 1125.4 2856.8 1134.7 2851.2 1145.9C2845.5 1157.1 2836.1 1174.7 2828.5 1188.3C2821.0 1202.0 2813.5 1214.7 2805.9 1227.9C2798.4 1241.2 2789.4 1257.2 2783.3 1267.6C2777.2 1277.9 2773.9 1282.0 2769.1 1289.9C2764.4 1297.8 2760.2 1305.4 2755.0 1314.8C2749.8 1324.1 2742.7 1334.1 2738.0 1345.9C2733.3 1357.7 2730.5 1372.3 2726.7 1385.5C2722.9 1398.7 2718.7 1411.0 2715.4 1425.1C2712.1 1439.2 2711.6 1454.8 2706.9 1470.4C2702.2 1485.9 2693.7 1503.4 2687.1 1518.5C2680.5 1533.5 2673.9 1544.4 2667.3 1560.9C2660.7 1577.4 2653.2 1596.3 2647.5 1617.5C2641.8 1638.6 2635.7 1676.2 2633.4 1687.9" stroke-width="3.9" stroke-opacity=".92"/>
<path d="M2769.1 1289.9C2766.8 1294.0 2760.2 1305.4 2755.0 1314.8C2749.8 1324.1 2742.7 1334.1 2738.0 1345.9C2733.3 1357.7 2730.5 1372.3 2726.7 1385.5C2722.9 1398.7 2718.7 1411.0 2715.4 1425.1C2712.1 1439.2 2711.6 1454.8 2706.9 1470.4C2702.2 1485.9 2693.7 1503.4 2687.1 1518.5C2680.5 1533.5 2673.9 1544.4 2667.3 1560.9C2660.7 1577.4 2653.2 1596.3 2647.5 1617.5C2641.8 1638.6 2635.7 1676.2 2633.4 1687.9" stroke-width="5.4" stroke-opacity=".8" stroke-linecap="butt"/>
<path d="M2726.7 1385.5C2724.8 1392.1 2718.7 1411.0 2715.4 1425.1C2712.1 1439.2 2711.6 1454.8 2706.9 1470.4C2702.2 1485.9 2693.7 1503.4 2687.1 1518.5C2680.5 1533.5 2673.9 1544.4 2667.3 1560.9C2660.7 1577.4 2653.2 1596.3 2647.5 1617.5C2641.8 1638.6 2635.7 1676.2 2633.4 1687.9" stroke-width="7.4" stroke-opacity=".75" stroke-linecap="butt"/>
<path d="M2687.1 1518.5C2683.8 1525.5 2673.9 1544.4 2667.3 1560.9C2660.7 1577.4 2653.2 1596.3 2647.5 1617.5C2641.8 1638.6 2635.7 1676.2 2633.4 1687.9" stroke-width="9.8" stroke-opacity=".7" stroke-linecap="butt"/>
<path d="M2863.9 1241.2C2862.3 1244.2 2858.0 1252.3 2854.0 1259.1C2850.0 1265.8 2843.6 1276.6 2839.9 1281.7C2836.1 1286.8 2836.1 1284.8 2831.4 1289.9C2826.7 1294.9 2817.7 1304.5 2811.6 1311.9C2805.4 1319.4 2800.3 1324.7 2794.6 1334.6C2788.9 1344.5 2783.3 1358.2 2777.6 1371.4C2772.0 1384.6 2767.3 1398.7 2760.7 1413.8C2754.0 1428.9 2744.6 1446.8 2738.0 1461.9C2731.4 1477.0 2726.7 1490.2 2721.0 1504.3C2715.4 1518.5 2709.7 1530.2 2704.1 1546.7C2698.4 1563.2 2692.3 1579.8 2687.1 1603.3C2681.9 1626.8 2675.3 1673.8 2673.0 1687.9" stroke-width="3.9" stroke-opacity=".92"/>
<path d="M2811.6 1311.9C2808.7 1315.7 2800.3 1324.7 2794.6 1334.6C2788.9 1344.5 2783.3 1358.2 2777.6 1371.4C2772.0 1384.6 2767.3 1398.7 2760.7 1413.8C2754.0 1428.9 2744.6 1446.8 2738.0 1461.9C2731.4 1477.0 2726.7 1490.2 2721.0 1504.3C2715.4 1518.5 2709.7 1530.2 2704.1 1546.7C2698.4 1563.2 2692.3 1579.8 2687.1 1603.3C2681.9 1626.8 2675.3 1673.8 2673.0 1687.9" stroke-width="5.4" stroke-opacity=".8" stroke-linecap="butt"/>
<path d="M2760.7 1413.8C2756.9 1421.8 2744.6 1446.8 2738.0 1461.9C2731.4 1477.0 2726.7 1490.2 2721.0 1504.3C2715.4 1518.5 2709.7 1530.2 2704.1 1546.7C2698.4 1563.2 2692.3 1579.8 2687.1 1603.3C2681.9 1626.8 2675.3 1673.8 2673.0 1687.9" stroke-width="7.4" stroke-opacity=".75" stroke-linecap="butt"/>
<path d="M2721.0 1504.3C2718.2 1511.4 2709.7 1530.2 2704.1 1546.7C2698.4 1563.2 2692.3 1579.8 2687.1 1603.3C2681.9 1626.8 2675.3 1673.8 2673.0 1687.9" stroke-width="9.8" stroke-opacity=".7" stroke-linecap="butt"/>
<path d="M2883.7 1281.7C2882.1 1285.8 2879.2 1293.7 2873.8 1306.3C2868.4 1318.9 2858.7 1340.7 2851.2 1357.2C2843.6 1373.7 2836.1 1389.3 2828.5 1405.3C2821.0 1421.3 2812.5 1437.8 2805.9 1453.4C2799.3 1468.9 2795.5 1485.4 2788.9 1498.7C2782.3 1511.9 2774.8 1519.9 2766.3 1532.6C2757.8 1545.3 2746.5 1558.5 2738.0 1575.0C2729.5 1591.5 2722.0 1612.8 2715.4 1631.6C2708.8 1650.4 2701.2 1678.5 2698.4 1687.9" stroke-width="3.9" stroke-opacity=".92"/>
<path d="M2828.5 1405.3C2824.8 1413.3 2812.5 1437.8 2805.9 1453.4C2799.3 1468.9 2795.5 1485.4 2788.9 1498.7C2782.3 1511.9 2774.8 1519.9 2766.3 1532.6C2757.8 1545.3 2746.5 1558.5 2738.0 1575.0C2729.5 1591.5 2722.0 1612.8 2715.4 1631.6C2708.8 1650.4 2701.2 1678.5 2698.4 1687.9" stroke-width="5.4" stroke-opacity=".8" stroke-linecap="butt"/>
<path d="M2766.3 1532.6C2761.6 1539.7 2746.5 1558.5 2738.0 1575.0C2729.5 1591.5 2722.0 1612.8 2715.4 1631.6C2708.8 1650.4 2701.2 1678.5 2698.4 1687.9" stroke-width="7.4" stroke-opacity=".75" stroke-linecap="butt"/>
<path d="M2738.0 1575.0C2734.2 1584.5 2722.0 1612.8 2715.4 1631.6C2708.8 1650.4 2701.2 1678.5 2698.4 1687.9" stroke-width="9.8" stroke-opacity=".7" stroke-linecap="butt"/>
<path d="M2935.5 1336.0C2933.2 1340.0 2928.4 1352.3 2921.9 1360.0C2915.4 1367.8 2905.9 1375.6 2896.4 1382.7C2887.0 1389.7 2874.7 1395.9 2865.3 1402.5C2855.9 1409.1 2846.9 1414.7 2839.9 1422.3C2832.8 1429.8 2828.5 1436.4 2822.9 1447.7C2817.2 1459.0 2811.6 1476.0 2805.9 1490.2C2800.3 1504.3 2794.6 1518.5 2788.9 1532.6C2783.3 1546.7 2777.6 1558.5 2772.0 1575.0C2766.3 1591.5 2760.7 1612.8 2755.0 1631.6C2749.3 1650.4 2740.8 1678.5 2738.0 1687.9" stroke-width="3.9" stroke-opacity=".92"/>
<path d="M2865.3 1402.5C2861.1 1405.8 2846.9 1414.7 2839.9 1422.3C2832.8 1429.8 2828.5 1436.4 2822.9 1447.7C2817.2 1459.0 2811.6 1476.0 2805.9 1490.2C2800.3 1504.3 2794.6 1518.5 2788.9 1532.6C2783.3 1546.7 2777.6 1558.5 2772.0 1575.0C2766.3 1591.5 2760.7 1612.8 2755.0 1631.6C2749.3 1650.4 2740.8 1678.5 2738.0 1687.9" stroke-width="5.4" stroke-opacity=".8" stroke-linecap="butt"/>
<path d="M2805.9 1490.2C2803.1 1497.2 2794.6 1518.5 2788.9 1532.6C2783.3 1546.7 2777.6 1558.5 2772.0 1575.0C2766.3 1591.5 2760.7 1612.8 2755.0 1631.6C2749.3 1650.4 2740.8 1678.5 2738.0 1687.9" stroke-width="7.4" stroke-opacity=".75" stroke-linecap="butt"/>
<path d="M2772.0 1575.0C2769.1 1584.5 2760.7 1612.8 2755.0 1631.6C2749.3 1650.4 2740.8 1678.5 2738.0 1687.9" stroke-width="9.8" stroke-opacity=".7" stroke-linecap="butt"/>
<path d="M3015.2 1289.3C3012.7 1293.6 3008.5 1301.1 3000.0 1314.8C2991.5 1328.4 2975.0 1353.9 2964.3 1371.4C2953.7 1388.8 2945.5 1402.9 2936.0 1419.4C2926.6 1435.9 2916.2 1456.2 2907.8 1470.4C2899.3 1484.5 2893.1 1492.5 2885.1 1504.3C2877.1 1516.1 2868.1 1529.3 2859.7 1541.1C2851.2 1552.9 2842.2 1562.3 2834.2 1575.0C2826.2 1587.8 2818.2 1598.7 2811.6 1617.5C2805.0 1636.3 2797.4 1676.2 2794.6 1687.9" stroke-width="3.9" stroke-opacity=".92"/>
<path d="M2936.0 1419.4C2931.3 1427.9 2916.2 1456.2 2907.8 1470.4C2899.3 1484.5 2893.1 1492.5 2885.1 1504.3C2877.1 1516.1 2868.1 1529.3 2859.7 1541.1C2851.2 1552.9 2842.2 1562.3 2834.2 1575.0C2826.2 1587.8 2818.2 1598.7 2811.6 1617.5C2805.0 1636.3 2797.4 1676.2 2794.6 1687.9" stroke-width="5.4" stroke-opacity=".8" stroke-linecap="butt"/>
<path d="M2859.7 1541.1C2855.4 1546.7 2842.2 1562.3 2834.2 1575.0C2826.2 1587.8 2818.2 1598.7 2811.6 1617.5C2805.0 1636.3 2797.4 1676.2 2794.6 1687.9" stroke-width="7.4" stroke-opacity=".75" stroke-linecap="butt"/>
<path d="M2834.2 1575.0C2830.4 1582.1 2818.2 1598.7 2811.6 1617.5C2805.0 1636.3 2797.4 1676.2 2794.6 1687.9" stroke-width="9.8" stroke-opacity=".7" stroke-linecap="butt"/>
<path d="M3018.1 1362.9C3015.1 1365.2 3008.9 1369.0 3000.0 1377.0C2991.0 1385.0 2975.9 1398.2 2964.3 1411.0C2952.7 1423.7 2940.8 1439.7 2930.4 1453.4C2920.0 1467.1 2909.6 1479.8 2902.1 1493.0C2894.5 1506.2 2889.8 1518.9 2885.1 1532.6C2880.4 1546.3 2877.6 1560.9 2873.8 1575.0C2870.0 1589.2 2867.2 1598.7 2862.5 1617.5C2857.8 1636.3 2848.3 1676.2 2845.5 1687.9" stroke-width="3.9" stroke-opacity=".92"/>
<path d="M2930.4 1453.4C2925.7 1460.0 2909.6 1479.8 2902.1 1493.0C2894.5 1506.2 2889.8 1518.9 2885.1 1532.6C2880.4 1546.3 2877.6 1560.9 2873.8 1575.0C2870.0 1589.2 2867.2 1598.7 2862.5 1617.5C2857.8 1636.3 2848.3 1676.2 2845.5 1687.9" stroke-width="5.4" stroke-opacity=".8" stroke-linecap="butt"/>
<path d="M2885.1 1532.6C2883.2 1539.7 2877.6 1560.9 2873.8 1575.0C2870.0 1589.2 2867.2 1598.7 2862.5 1617.5C2857.8 1636.3 2848.3 1676.2 2845.5 1687.9" stroke-width="7.4" stroke-opacity=".75" stroke-linecap="butt"/>
<path d="M2873.8 1575.0C2871.9 1582.1 2867.2 1598.7 2862.5 1617.5C2857.8 1636.3 2848.3 1676.2 2845.5 1687.9" stroke-width="9.8" stroke-opacity=".7" stroke-linecap="butt"/>
<path d="M3015.2 1442.1C3012.7 1445.8 3006.6 1454.3 3000.0 1464.7C2993.4 1475.1 2984.4 1492.0 2975.6 1504.3C2966.9 1516.6 2954.9 1528.8 2947.4 1538.3C2939.8 1547.7 2937.0 1550.0 2930.4 1560.9C2923.8 1571.7 2914.8 1589.2 2907.8 1603.3C2900.7 1617.5 2893.6 1631.7 2887.9 1645.8C2882.3 1659.8 2876.2 1680.9 2873.8 1687.9" stroke-width="3.9" stroke-opacity=".92"/>
<path d="M2975.6 1504.3C2970.9 1510.0 2954.9 1528.8 2947.4 1538.3C2939.8 1547.7 2937.0 1550.0 2930.4 1560.9C2923.8 1571.7 2914.8 1589.2 2907.8 1603.3C2900.7 1617.5 2893.6 1631.7 2887.9 1645.8C2882.3 1659.8 2876.2 1680.9 2873.8 1687.9" stroke-width="5.4" stroke-opacity=".8" stroke-linecap="butt"/>
<path d="M2907.8 1603.3C2904.5 1610.4 2893.6 1631.7 2887.9 1645.8C2882.3 1659.8 2876.2 1680.9 2873.8 1687.9" stroke-width="7.4" stroke-opacity=".75" stroke-linecap="butt"/>
<path d="M2887.9 1645.8 L2873.8 1687.9" stroke-width="9.8" stroke-opacity=".7" stroke-linecap="butt"/>
<path d="M3015.2 1532.6C3012.7 1537.3 3006.1 1549.1 3000.0 1560.9C2993.8 1572.7 2985.4 1589.2 2978.5 1603.3C2971.6 1617.5 2964.8 1631.7 2958.7 1645.8C2952.5 1659.8 2944.5 1680.9 2941.7 1687.9" stroke-width="3.9" stroke-opacity=".92"/>
<path d="M3015.2 1625.9C3011.5 1630.7 3000.2 1643.9 2992.6 1654.2C2985.1 1664.6 2973.8 1682.3 2970.0 1687.9" stroke-width="3.9" stroke-opacity=".92"/>
<path d="M2559.8 993.2C2559.2 996.0 2558.0 998.9 2556.0 1010.0C2554.0 1021.1 2549.3 1051.7 2548.0 1060.0" stroke-width="3.9" stroke-opacity=".92"/>
</g>
</g>
<g filter="url(#b15)">
<circle cx="2597.7" cy="1143.6" r="5.9" fill="#1a5fe6"/>
<circle cx="2696.4" cy="1048.9" r="5.9" fill="#1a5fe6"/>
<circle cx="2720.2" cy="1194.6" r="5.9" fill="#1a5fe6"/>
<circle cx="2812.4" cy="1100.1" r="5.9" fill="#1a5fe6"/>
<circle cx="2862.5" cy="1121.3" r="5.9" fill="#1a5fe6"/>
<circle cx="2863.9" cy="1241.2" r="5.9" fill="#1a5fe6"/>
<circle cx="2883.7" cy="1281.7" r="5.9" fill="#1a5fe6"/>
<circle cx="2935.5" cy="1336.0" r="5.9" fill="#1a5fe6"/>
<circle cx="2559.8" cy="993.2" r="5.9" fill="#1a5fe6"/>
</g>
<g filter="url(#b8)" fill="none" stroke-linecap="round">
<path d="M2650 1540L2590 1688" stroke="#1c40e0" stroke-opacity="0.5" stroke-width="30"/>
<path d="M2710 1500L2640 1688" stroke="#1c40e0" stroke-opacity="0.45" stroke-width="26"/>
<path d="M2560 1610L2740 1630" stroke="#1c40e0" stroke-opacity="0.4" stroke-width="26"/>
<path d="M2780 1600L2860 1688" stroke="#1c40e0" stroke-opacity="0.3" stroke-width="30"/>
</g>
<g fill="none" stroke="#3454e8" stroke-opacity=".42" stroke-width="0.9" filter="url(#b05)">
<path d="M2540.0 1620.6C2556.7 1618.0 2606.7 1609.3 2640.0 1604.6C2673.3 1600.0 2710.0 1593.0 2740.0 1592.6C2770.0 1592.3 2796.7 1596.6 2820.0 1602.6C2843.3 1608.6 2861.7 1618.3 2880.0 1628.6C2898.3 1639.0 2921.7 1658.6 2930.0 1664.6"/>
<path d="M2540.0 1625.4C2556.7 1622.7 2606.7 1613.8 2640.0 1609.2C2673.3 1604.7 2710.0 1598.3 2740.0 1598.2C2770.0 1598.2 2796.3 1602.8 2820.0 1609.0C2843.7 1615.3 2863.2 1625.3 2882.0 1635.8C2900.8 1646.4 2924.5 1666.3 2933.0 1672.4"/>
<path d="M2540.0 1630.3C2556.7 1627.5 2606.7 1618.3 2640.0 1613.9C2673.3 1609.5 2710.0 1603.6 2740.0 1603.9C2770.0 1604.1 2796.0 1608.9 2820.0 1615.5C2844.0 1622.0 2864.7 1632.3 2884.0 1643.1C2903.3 1653.9 2927.3 1674.1 2936.0 1680.3"/>
<path d="M2540.0 1635.1C2556.7 1632.3 2606.7 1622.7 2640.0 1618.5C2673.3 1614.2 2710.0 1608.9 2740.0 1609.5C2770.0 1610.0 2795.7 1615.1 2820.0 1621.9C2844.3 1628.7 2866.2 1639.2 2886.0 1650.3C2905.8 1661.3 2930.2 1681.8 2939.0 1688.1"/>
<path d="M2540.0 1639.9C2556.7 1637.1 2606.7 1627.2 2640.0 1623.1C2673.3 1618.9 2710.0 1614.2 2740.0 1615.1C2770.0 1615.9 2795.3 1621.2 2820.0 1628.3C2844.7 1635.3 2867.7 1646.2 2888.0 1657.5C2908.3 1668.7 2933.0 1689.5 2942.0 1695.9"/>
<path d="M2540.0 1644.7C2556.7 1641.8 2606.7 1631.7 2640.0 1627.7C2673.3 1623.7 2710.0 1619.5 2740.0 1620.7C2770.0 1621.8 2795.0 1627.3 2820.0 1634.7C2845.0 1642.0 2869.2 1653.2 2890.0 1664.7C2910.8 1676.2 2935.8 1697.2 2945.0 1703.7"/>
<path d="M2540.0 1649.5C2556.7 1646.6 2606.7 1636.2 2640.0 1632.3C2673.3 1628.4 2710.0 1624.8 2740.0 1626.3C2770.0 1627.8 2794.7 1633.5 2820.0 1641.1C2845.3 1648.7 2870.7 1660.2 2892.0 1671.9C2913.3 1683.6 2938.7 1704.9 2948.0 1711.5"/>
<path d="M2540.0 1654.3C2556.7 1651.4 2606.7 1640.6 2640.0 1636.9C2673.3 1633.2 2710.0 1630.1 2740.0 1631.9C2770.0 1633.7 2794.3 1639.6 2820.0 1647.5C2845.7 1655.4 2872.2 1667.1 2894.0 1679.1C2915.8 1691.1 2941.5 1712.6 2951.0 1719.3"/>
<path d="M2540.0 1659.1C2556.7 1656.2 2606.7 1645.1 2640.0 1641.5C2673.3 1637.9 2710.0 1635.4 2740.0 1637.5C2770.0 1639.6 2794.0 1645.8 2820.0 1653.9C2846.0 1662.0 2873.7 1674.1 2896.0 1686.3C2918.3 1698.5 2944.3 1720.3 2954.0 1727.1"/>
<path d="M2540.0 1663.9C2556.7 1660.9 2606.7 1649.6 2640.0 1646.1C2673.3 1642.6 2710.0 1640.7 2740.0 1643.1C2770.0 1645.5 2793.7 1651.9 2820.0 1660.3C2846.3 1668.7 2875.2 1681.1 2898.0 1693.5C2920.8 1705.9 2947.2 1728.0 2957.0 1734.9"/>
<path d="M2540.0 1668.7C2556.7 1665.7 2606.7 1654.1 2640.0 1650.7C2673.3 1647.4 2710.0 1646.1 2740.0 1648.7C2770.0 1651.4 2793.3 1658.1 2820.0 1666.7C2846.7 1675.4 2876.7 1688.1 2900.0 1700.7C2923.3 1713.4 2950.0 1735.7 2960.0 1742.7"/>
<path d="M2540.0 1673.5C2556.7 1670.5 2606.7 1658.5 2640.0 1655.3C2673.3 1652.1 2710.0 1651.4 2740.0 1654.3C2770.0 1657.3 2793.0 1664.2 2820.0 1673.1C2847.0 1682.1 2878.2 1695.0 2902.0 1707.9C2925.8 1720.8 2952.8 1743.4 2963.0 1750.5"/>
<path d="M2540.0 1678.3C2556.7 1675.3 2606.7 1663.0 2640.0 1659.9C2673.3 1656.9 2710.0 1656.7 2740.0 1659.9C2770.0 1663.2 2792.7 1670.3 2820.0 1679.5C2847.3 1688.7 2879.7 1702.0 2904.0 1715.1C2928.3 1728.3 2955.7 1751.1 2966.0 1758.3"/>
<path d="M2540.0 1683.2C2556.7 1680.1 2606.7 1667.5 2640.0 1664.6C2673.3 1661.6 2710.0 1662.0 2740.0 1665.6C2770.0 1669.1 2792.3 1676.5 2820.0 1686.0C2847.7 1695.4 2881.2 1709.0 2906.0 1722.4C2930.8 1735.7 2958.5 1758.9 2969.0 1766.2"/>
<path d="M2540.0 1688.0C2556.7 1684.8 2606.7 1672.0 2640.0 1669.2C2673.3 1666.4 2710.0 1667.3 2740.0 1671.2C2770.0 1675.0 2792.0 1682.6 2820.0 1692.4C2848.0 1702.1 2882.7 1716.0 2908.0 1729.6C2933.3 1743.2 2961.3 1766.6 2972.0 1774.0"/>
<path d="M2540.0 1692.8C2556.7 1689.6 2606.7 1676.4 2640.0 1673.8C2673.3 1671.1 2710.0 1672.6 2740.0 1676.8C2770.0 1680.9 2791.7 1688.8 2820.0 1698.8C2848.3 1708.8 2884.2 1722.9 2910.0 1736.8C2935.8 1750.6 2964.2 1774.3 2975.0 1781.8"/>
<path d="M2575.0 1614.1C2572.0 1618.4 2563.0 1625.7 2557.0 1640.0C2551.0 1654.3 2542.0 1690.0 2539.0 1700.0"/>
<path d="M2597.0 1612.9C2594.0 1617.4 2585.0 1625.5 2579.0 1640.0C2573.0 1654.5 2564.0 1690.0 2561.0 1700.0"/>
<path d="M2619.0 1611.7C2616.0 1616.4 2607.0 1625.3 2601.0 1640.0C2595.0 1654.7 2586.0 1690.0 2583.0 1700.0"/>
<path d="M2641.0 1610.5C2638.0 1615.4 2629.0 1625.1 2623.0 1640.0C2617.0 1654.9 2608.0 1690.0 2605.0 1700.0"/>
<path d="M2663.0 1609.3C2660.0 1614.4 2651.0 1624.9 2645.0 1640.0C2639.0 1655.1 2630.0 1690.0 2627.0 1700.0"/>
<path d="M2685.0 1608.1C2682.0 1613.4 2673.0 1624.7 2667.0 1640.0C2661.0 1655.3 2652.0 1690.0 2649.0 1700.0"/>
<path d="M2707.0 1606.9C2704.0 1612.4 2695.0 1624.5 2689.0 1640.0C2683.0 1655.5 2674.0 1690.0 2671.0 1700.0"/>
<path d="M2729.0 1605.7C2726.0 1611.4 2717.0 1624.3 2711.0 1640.0C2705.0 1655.7 2696.0 1690.0 2693.0 1700.0"/>
<path d="M2751.0 1604.5C2748.0 1610.4 2739.0 1624.1 2733.0 1640.0C2727.0 1655.9 2718.0 1690.0 2715.0 1700.0"/>
<path d="M2773.0 1603.3C2770.0 1609.4 2761.0 1623.9 2755.0 1640.0C2749.0 1656.1 2740.0 1690.0 2737.0 1700.0"/>
<path d="M2795.0 1604.5C2792.0 1610.4 2783.0 1624.1 2777.0 1640.0C2771.0 1655.9 2762.0 1690.0 2759.0 1700.0"/>
<path d="M2817.0 1605.7C2814.0 1611.4 2805.0 1624.3 2799.0 1640.0C2793.0 1655.7 2784.0 1690.0 2781.0 1700.0"/>
<path d="M2839.0 1606.9C2836.0 1612.4 2827.0 1624.5 2821.0 1640.0C2815.0 1655.5 2806.0 1690.0 2803.0 1700.0"/>
<path d="M2861.0 1608.1C2858.0 1613.4 2849.0 1624.7 2843.0 1640.0C2837.0 1655.3 2828.0 1690.0 2825.0 1700.0"/>
<path d="M2883.0 1609.3C2880.0 1614.4 2871.0 1624.9 2865.0 1640.0C2859.0 1655.1 2850.0 1690.0 2847.0 1700.0"/>
<path d="M2905.0 1610.5C2902.0 1615.4 2893.0 1625.1 2887.0 1640.0C2881.0 1654.9 2872.0 1690.0 2869.0 1700.0"/>
<path d="M2927.0 1611.7C2924.0 1616.4 2915.0 1625.3 2909.0 1640.0C2903.0 1654.7 2894.0 1690.0 2891.0 1700.0"/>
<path d="M2949.0 1612.9C2946.0 1617.4 2937.0 1625.5 2931.0 1640.0C2925.0 1654.5 2916.0 1690.0 2913.0 1700.0"/>
</g>
<path d="M2556.1 1532.6C2560.5 1532.6 2571.0 1530.2 2582.4 1532.6C2593.9 1535.0 2610.7 1540.6 2624.9 1546.7C2639.0 1552.9 2656.5 1562.8 2667.3 1569.4C2678.1 1576.0 2683.8 1580.2 2689.9 1586.3C2696.1 1592.5 2698.9 1599.5 2704.1 1606.1C2709.3 1612.7 2712.6 1622.2 2721.0 1625.9C2729.5 1629.7 2742.7 1629.5 2755.0 1628.8C2767.3 1628.1 2780.9 1621.2 2794.6 1621.7C2808.3 1622.2 2822.9 1626.2 2837.0 1631.6C2851.2 1637.0 2866.7 1644.9 2879.5 1654.2C2892.2 1663.6 2907.8 1682.3 2913.4 1687.9" fill="none" stroke="#3858f0" stroke-opacity=".8" stroke-width="1.3"/>
<g fill="none" stroke-linecap="round" filter="url(#b05)">
<path d="M2645.5 1280.3C2643.5 1287.0 2638.2 1304.3 2633.4 1320.4C2628.5 1336.6 2622.5 1357.7 2616.4 1377.0C2610.2 1396.3 2603.2 1418.5 2596.6 1436.4C2590.0 1454.3 2583.4 1469.4 2576.8 1484.5C2570.2 1499.6 2560.3 1519.9 2557.0 1526.9" stroke="#a0389a" stroke-width="1.3" stroke-opacity=".8"/>
<path d="M2750.2 1323.3C2748.2 1327.5 2742.9 1338.3 2738.0 1348.7C2733.2 1359.1 2727.6 1372.8 2721.0 1385.5C2714.4 1398.2 2705.5 1411.0 2698.4 1425.1C2691.3 1439.2 2684.7 1454.8 2678.6 1470.4C2672.5 1485.9 2666.8 1503.4 2661.6 1518.5C2656.5 1533.5 2652.2 1544.4 2647.5 1560.9C2642.8 1577.4 2637.6 1596.3 2633.4 1617.5C2629.1 1638.6 2623.9 1676.2 2622.0 1687.9" stroke="#b070d0" stroke-width="1.3" stroke-opacity=".8"/>
<path d="M2729.3 1356.4C2726.5 1362.2 2718.6 1379.7 2712.6 1391.2C2706.5 1402.6 2699.4 1413.8 2692.8 1425.1C2686.2 1436.4 2679.1 1446.8 2673.0 1459.0C2666.8 1471.3 2660.7 1486.4 2656.0 1498.7C2651.3 1510.9 2648.9 1517.5 2644.7 1532.6C2640.4 1547.7 2634.8 1570.3 2630.5 1589.2C2626.3 1608.0 2622.0 1629.3 2619.2 1645.8C2616.4 1662.2 2614.5 1680.9 2613.6 1687.9" stroke="#e088e4" stroke-width="1.3" stroke-opacity=".8"/>
<path d="M2793.7 1342.5C2791.5 1347.3 2785.5 1360.9 2780.5 1371.4C2775.4 1381.8 2768.7 1394.5 2763.5 1405.3C2758.3 1416.1 2754.5 1424.6 2749.3 1436.4C2744.1 1448.2 2739.0 1460.0 2732.4 1476.0C2725.8 1492.0 2716.3 1513.7 2709.7 1532.6C2703.1 1551.5 2698.4 1563.3 2692.8 1589.2C2687.1 1615.1 2678.6 1671.4 2675.8 1687.9" stroke="#9a3898" stroke-width="1.3" stroke-opacity=".8"/>
<path d="M2817.5 1351.6C2815.6 1355.8 2811.1 1369.0 2805.9 1377.0C2800.7 1385.0 2793.7 1392.1 2786.1 1399.6C2778.6 1407.2 2768.7 1413.8 2760.7 1422.3C2752.6 1430.8 2744.6 1440.7 2738.0 1450.6C2731.4 1460.5 2726.2 1470.4 2721.0 1481.7C2715.9 1493.0 2711.6 1505.3 2706.9 1518.5C2702.2 1531.7 2697.0 1544.4 2692.8 1560.9C2688.5 1577.4 2684.7 1596.3 2681.4 1617.5C2678.1 1638.6 2674.4 1676.2 2673.0 1687.9" stroke="#e090e8" stroke-width="1.3" stroke-opacity=".8"/>
<path d="M2667.3 1408.7C2665.4 1413.3 2660.7 1426.1 2656.0 1436.4C2651.3 1446.7 2644.7 1459.0 2639.0 1470.4C2633.4 1481.7 2627.7 1491.6 2622.0 1504.3C2616.4 1517.0 2610.7 1530.2 2605.1 1546.7C2599.4 1563.2 2593.7 1582.1 2588.1 1603.3C2582.4 1624.5 2573.9 1662.3 2571.1 1674.0" stroke="#a0389a" stroke-width="1.3" stroke-opacity=".8"/>
<path d="M2831.1 1423.1C2828.8 1428.2 2822.4 1442.2 2817.2 1453.4C2812.1 1464.6 2806.4 1477.0 2800.3 1490.2C2794.1 1503.4 2787.1 1518.5 2780.5 1532.6C2773.9 1546.7 2767.7 1560.9 2760.7 1575.0C2753.6 1589.2 2745.6 1603.3 2738.0 1617.5C2730.5 1631.6 2722.0 1648.2 2715.4 1659.9C2708.8 1671.6 2701.2 1683.2 2698.4 1687.9" stroke="#d8b8f4" stroke-width="1.3" stroke-opacity=".8"/>
<path d="M2795.4 1450.6C2792.9 1455.7 2786.7 1470.4 2780.5 1481.7C2774.2 1493.0 2765.8 1506.2 2757.8 1518.5C2749.8 1530.7 2740.4 1543.4 2732.4 1555.2C2724.3 1567.0 2717.3 1576.4 2709.7 1589.2C2702.2 1601.9 2695.1 1615.2 2687.1 1631.6C2679.1 1648.1 2665.9 1678.5 2661.6 1687.9" stroke="#98349a" stroke-width="1.3" stroke-opacity=".8"/>
<path d="M2813.6 1487.6C2811.3 1492.3 2805.3 1505.3 2800.3 1515.6C2795.2 1525.9 2788.9 1537.3 2783.3 1549.6C2777.6 1561.8 2772.9 1573.1 2766.3 1589.2C2759.7 1605.2 2750.3 1629.3 2743.7 1645.8C2737.1 1662.2 2729.5 1680.9 2726.7 1687.9" stroke="#98349a" stroke-width="1.3" stroke-opacity=".8"/>
<path d="M2847.5 1509.1C2845.8 1512.6 2841.1 1522.1 2837.0 1529.8C2832.9 1537.5 2827.6 1545.3 2822.9 1555.2C2818.2 1565.1 2813.5 1576.4 2808.7 1589.2C2804.0 1601.9 2799.3 1615.2 2794.6 1631.6C2789.9 1648.1 2782.8 1678.5 2780.5 1687.9" stroke="#c8c8f4" stroke-width="1.3" stroke-opacity=".8"/>
<path d="M2835.9 1533.4C2833.7 1537.1 2828.4 1545.9 2822.9 1555.2C2817.4 1564.5 2810.2 1577.4 2803.1 1589.2C2796.0 1601.0 2788.5 1612.7 2780.5 1625.9C2772.4 1639.2 2762.1 1658.1 2755.0 1668.4C2747.9 1678.7 2740.8 1684.6 2738.0 1687.9" stroke="#c4c8f0" stroke-width="1.3" stroke-opacity=".8"/>
<path d="M2859.9 1534.9C2857.5 1539.2 2851.7 1552.8 2845.5 1560.9C2839.3 1569.0 2831.4 1576.4 2822.9 1583.5C2814.4 1590.6 2804.0 1594.8 2794.6 1603.3C2785.2 1611.8 2774.8 1620.3 2766.3 1634.4C2757.8 1648.5 2747.4 1679.0 2743.7 1687.9" stroke="#98349a" stroke-width="1.3" stroke-opacity=".8"/>
<path d="M2956.4 1454.2C2954.0 1459.3 2947.9 1472.9 2941.7 1484.5C2935.5 1496.2 2927.1 1510.9 2919.1 1524.1C2911.1 1537.3 2902.6 1549.6 2893.6 1563.7C2884.6 1577.9 2874.7 1594.4 2865.3 1609.0C2855.9 1623.6 2846.0 1638.3 2837.0 1651.4C2828.1 1664.6 2815.8 1681.8 2811.6 1687.9" stroke="#98349a" stroke-width="1.3" stroke-opacity=".8"/>
<path d="M2965.2 1521.3C2962.2 1525.5 2955.0 1537.8 2947.4 1546.7C2939.7 1555.7 2928.0 1567.5 2919.1 1575.0C2910.1 1582.6 2902.6 1583.5 2893.6 1592.0C2884.6 1600.5 2874.3 1610.0 2865.3 1625.9C2856.4 1641.9 2844.1 1677.6 2839.9 1687.9" stroke="#98349a" stroke-width="1.3" stroke-opacity=".8"/>
<path d="M2922.5 1548.2C2920.0 1552.2 2914.0 1564.0 2907.8 1572.2C2901.5 1580.5 2893.1 1588.7 2885.1 1597.7C2877.1 1606.6 2868.1 1616.5 2859.7 1625.9C2851.2 1635.4 2842.2 1643.9 2834.2 1654.2C2826.2 1664.6 2815.3 1682.3 2811.6 1687.9" stroke="#7ae4f4" stroke-width="1.3" stroke-opacity=".8"/>
<path d="M2919.3 1615.2C2916.9 1618.4 2909.7 1627.0 2904.9 1634.4C2900.2 1641.9 2894.5 1651.0 2890.8 1659.9C2887.0 1668.8 2883.7 1683.2 2882.3 1687.9" stroke="#66e8f0" stroke-width="1.3" stroke-opacity=".8"/>
<path d="M2972.0 1614.1C2969.3 1617.5 2961.8 1627.3 2955.8 1634.4C2949.9 1641.6 2943.1 1648.2 2936.0 1657.1C2929.0 1666.0 2917.2 1682.8 2913.4 1687.9" stroke="#e890e8" stroke-width="1.3" stroke-opacity=".8"/>
<path d="M2997.1 1548.2C2994.5 1552.6 2987.7 1564.4 2981.3 1575.0C2974.9 1585.6 2966.2 1599.1 2958.7 1611.8C2951.1 1624.5 2942.6 1638.7 2936.0 1651.4C2929.4 1664.1 2921.9 1681.8 2919.1 1687.9" stroke="#a030a0" stroke-width="1.3" stroke-opacity=".8"/>
<path d="M2624.9 1467.5C2623.5 1471.8 2620.2 1482.1 2616.4 1493.0C2612.6 1503.8 2606.9 1518.9 2602.2 1532.6C2597.5 1546.3 2593.3 1560.9 2588.1 1575.0C2582.9 1589.2 2576.3 1605.7 2571.1 1617.5C2565.9 1629.2 2559.3 1641.0 2557.0 1645.8" stroke="#e0a0e8" stroke-width="1.3" stroke-opacity=".8"/>
<path d="M2583.6 1413.8C2582.4 1417.6 2578.6 1426.0 2576.8 1436.4C2574.9 1446.8 2573.2 1462.3 2572.5 1476.0C2571.8 1489.7 2573.2 1504.3 2572.5 1518.5C2571.8 1532.6 2570.9 1550.0 2568.3 1560.9C2565.7 1571.7 2558.9 1579.7 2557.0 1583.5" stroke="#a8e4f0" stroke-width="1.3" stroke-opacity=".8"/>
<path d="M2561.2 1350.1C2560.8 1352.3 2559.5 1357.9 2558.7 1362.9C2557.9 1367.8 2556.8 1377.0 2556.4 1379.8" stroke="#b8d0f4" stroke-width="1.3" stroke-opacity=".8"/>
<path d="M3020.9 1589.2C3016.2 1594.8 3002.0 1611.8 2992.6 1623.1C2983.2 1634.4 2972.8 1646.3 2964.3 1657.1C2955.8 1667.9 2945.5 1682.8 2941.7 1687.9" stroke="#b060c0" stroke-width="1.3" stroke-opacity=".8"/>
<path d="M2596.6 1687.9C2599.4 1676.2 2607.4 1638.6 2613.6 1617.5C2619.7 1596.3 2626.8 1577.9 2633.4 1560.9C2640.0 1543.9 2649.9 1523.2 2653.2 1515.6" stroke="#b8c0f0" stroke-width="1.3" stroke-opacity=".8"/>
</g>
<g filter="url(#b08)">
<circle cx="2645.5" cy="1280.3" r="4.3" fill="#a0389a" fill-opacity=".92"/>
<circle cx="2750.2" cy="1323.3" r="4.3" fill="#b070d0" fill-opacity=".92"/>
<circle cx="2729.3" cy="1356.4" r="4.5" fill="#e088e4" fill-opacity=".92"/>
<circle cx="2793.7" cy="1342.5" r="4.3" fill="#9a3898" fill-opacity=".92"/>
<circle cx="2817.5" cy="1351.6" r="4.3" fill="#e090e8" fill-opacity=".92"/>
<circle cx="2667.3" cy="1408.7" r="4.5" fill="#a0389a" fill-opacity=".92"/>
<circle cx="2831.1" cy="1423.1" r="4.5" fill="#d8b8f4" fill-opacity=".92"/>
<circle cx="2795.4" cy="1450.6" r="4.3" fill="#98349a" fill-opacity=".92"/>
<circle cx="2813.6" cy="1487.6" r="4.1" fill="#98349a" fill-opacity=".92"/>
<circle cx="2847.5" cy="1509.1" r="4.5" fill="#c8c8f4" fill-opacity=".92"/>
<circle cx="2835.9" cy="1533.4" r="4.5" fill="#c4c8f0" fill-opacity=".92"/>
<circle cx="2859.9" cy="1534.9" r="4.1" fill="#98349a" fill-opacity=".92"/>
<circle cx="2956.4" cy="1454.2" r="4.3" fill="#98349a" fill-opacity=".92"/>
<circle cx="2965.2" cy="1521.3" r="4.3" fill="#98349a" fill-opacity=".92"/>
<circle cx="2922.5" cy="1548.2" r="4.7" fill="#7ae4f4" fill-opacity=".92"/>
<circle cx="2919.3" cy="1615.2" r="4.5" fill="#66e8f0" fill-opacity=".92"/>
<circle cx="2972.0" cy="1614.1" r="4.3" fill="#e890e8" fill-opacity=".92"/>
<circle cx="2997.1" cy="1548.2" r="4.5" fill="#a030a0" fill-opacity=".92"/>
<circle cx="2624.9" cy="1467.5" r="4.3" fill="#e0a0e8" fill-opacity=".92"/>
<circle cx="2583.6" cy="1413.8" r="4.5" fill="#a8e4f0" fill-opacity=".92"/>
<circle cx="2561.2" cy="1350.1" r="4.5" fill="#b8d0f4" fill-opacity=".92"/>
</g>
<path d="M2556.1 1427.9C2560.5 1429.8 2573.3 1434.1 2582.4 1439.2C2591.5 1444.4 2601.3 1451.0 2610.7 1459.0C2620.2 1467.1 2629.6 1477.9 2639.0 1487.3C2648.4 1496.8 2657.4 1506.7 2667.3 1515.6C2677.2 1524.6 2687.6 1533.5 2698.4 1541.1C2709.3 1548.6 2721.0 1555.2 2732.4 1560.9C2743.7 1566.5 2753.6 1570.3 2766.3 1575.0C2779.0 1579.7 2794.6 1585.4 2808.7 1589.2C2822.9 1592.9 2837.0 1595.3 2851.2 1597.7C2865.3 1600.0 2879.5 1600.5 2893.6 1603.3C2907.8 1606.1 2924.3 1610.4 2936.0 1614.6C2947.8 1618.9 2953.7 1623.1 2964.3 1628.8C2975.0 1634.4 2994.0 1645.3 3000.0 1648.6" fill="none" stroke="#8fe0f2" stroke-width="1.5" filter="url(#b05)"/>
<path d="M2556.1 1621.7C2562.9 1622.6 2580.4 1626.2 2596.6 1627.4C2612.7 1628.5 2634.3 1628.5 2653.2 1628.8C2672.0 1629.0 2690.9 1628.3 2709.7 1628.8C2728.6 1629.2 2749.8 1629.7 2766.3 1631.6C2782.8 1633.5 2797.0 1636.8 2808.7 1640.1C2820.5 1643.4 2827.6 1646.7 2837.0 1651.4C2846.5 1656.1 2856.8 1662.3 2865.3 1668.4C2873.8 1674.5 2884.2 1684.6 2887.9 1687.9" fill="none" stroke="#62e6b0" stroke-width="1.3" filter="url(#b05)"/>
<path d="M3000.0 1648.6C2996.4 1651.4 2985.8 1659.0 2978.5 1665.6C2971.1 1672.1 2959.6 1684.2 2955.8 1687.9" fill="none" stroke="#7ad8a0" stroke-width="1.2" filter="url(#b05)"/>
</svg>
<h1>Space Utilization &amp; Analytics</h1>
<div class="panel" style="left:80.8px;top:353.5px;width:1371.3px;height:470.0px">
<div class="card" style="left:37.9px;top:119.5px;width:310.3px;height:224.0px"></div>
<div class="card" style="left:145.2px;top:358.2px;width:203.0px;height:105.1px"></div>
<div class="card" style="left:361.2px;top:119.5px;width:311.0px;height:343.8px"></div>
<div class="card" style="left:686.0px;top:119.5px;width:634.4px;height:343.8px"></div>
</div>
<div class="panel" style="left:1526.0px;top:347.3px;width:1331.2px;height:475.8px">
<div class="card" style="left:19.3px;top:-27.3px;width:642.3px;height:496.6px"></div>
<div class="card" style="left:675.8px;top:-27.3px;width:642.9px;height:496.6px"></div>
</div>
<div class="panel" style="left:349.0px;top:864.5px;width:2206.9px;height:835.5px">
<div class="card" style="left:14.8px;top:54.0px;width:1090.4px;height:378.1px;border-radius:4.5px"></div>
<div class="card" style="left:1116.3px;top:54.0px;width:1134.7px;height:378.1px;border-radius:4.5px"></div>
<div class="card" style="left:14.8px;top:443.7px;width:1090.2px;height:377.8px;border-radius:4.5px"></div>
</div>
<svg width="3000" height="1688" viewBox="0 0 3000 1688">
<defs><clipPath id="c3"><rect x="349" y="864.5" width="2206.9" height="830"/></clipPath><filter id="ts" x="-20%" y="-40%" width="140%" height="180%"><feDropShadow dx="0" dy="0" stdDeviation="1.0" flood-color="#000" flood-opacity="0.4"/></filter><linearGradient id="tsh" x1="0" y1="0" x2="0" y2="1"><stop offset="0" stop-color="#3c4043" stop-opacity=".055"/><stop offset="1" stop-color="#3c4043" stop-opacity="0"/></linearGradient><filter id="halo" x="-20%" y="-40%" width="140%" height="180%"><feMorphology in="SourceAlpha" operator="dilate" radius="0.9" result="d"/><feGaussianBlur in="d" stdDeviation="0.7" result="b"/><feFlood flood-color="#fff" flood-opacity=".28"/><feComposite operator="in" in2="b" result="h"/><feMerge><feMergeNode in="h"/><feMergeNode in="SourceGraphic"/></feMerge></filter><filter id="soft" x="0" y="0" width="100%" height="100%" filterUnits="userSpaceOnUse"><feGaussianBlur stdDeviation="0.55"/></filter></defs>
<g class="p12">
<text transform="translate(759.9 396.0) scale(1 1.036)" font-size="31" text-anchor="middle" font-weight="bold" fill="#3c4043" textLength="213.3" lengthAdjust="spacingAndGlyphs" stroke="#3c4043" stroke-width="1.1" stroke-linejoin="round" paint-order="stroke">Desk Bookings</text>
<text transform="translate(274.5 591.6) scale(1 1.036)" font-size="51.2" text-anchor="middle" fill="#3c4043" textLength="135.6" lengthAdjust="spacingAndGlyphs">39.8 K</text>
<text transform="translate(175.0 632.3) scale(1 1.036)" font-size="19.7" fill="#5f6368" textLength="165.0" lengthAdjust="spacingAndGlyphs">Total Desk Bookings</text>
<path transform="translate(349.13 615.73) scale(0.8225)" d="M11 7h2v2h-2zm0 4h2v6h-2zm1-9C6.48 2 2 6.48 2 12s4.48 10 10 10 10-4.48 10-10S17.52 2 12 2zm0 18c-4.41 0-8-3.590-8-8s3.590-8 8-8 8 3.590 8 8-3.590 8-8 8z" fill="#5f6368" fill-rule="evenodd"/>
<text transform="translate(148.6 783.4) scale(1 1.036)" font-size="29.8" font-weight="bold" fill="#3c4043" textLength="35.2" lengthAdjust="spacingAndGlyphs" stroke="#3c4043" stroke-width="1.1" stroke-linejoin="round" paint-order="stroke">By</text>
<text transform="translate(328.3 767.1) scale(1 1.036)" font-size="42.3" text-anchor="middle" fill="#3c4043" textLength="94.5" lengthAdjust="spacingAndGlyphs">2,515</text>
<text transform="translate(267.4 804.1) scale(1 1.036)" font-size="19.7" fill="#5f6368" textLength="87.6" lengthAdjust="spacingAndGlyphs">Employees</text>
<path transform="translate(364.03 787.33) scale(0.8225)" d="M11 7h2v2h-2zm0 4h2v6h-2zm1-9C6.48 2 2 6.48 2 12s4.48 10 10 10 10-4.48 10-10S17.52 2 12 2zm0 18c-4.41 0-8-3.590-8-8s3.590-8 8-8 8 3.590 8 8-3.590 8-8 8z" fill="#5f6368" fill-rule="evenodd"/>
<path d="M597.4 641.8L465.40 641.80A132 132 0 1 1 670.91 751.44Z" fill="#00a69c" stroke="#fff" stroke-width="1" stroke-linejoin="round"/>
<path d="M597.4 641.8L670.91 751.44A132 132 0 0 1 523.89 751.44Z" fill="#d93030" stroke="#fff" stroke-width="1" stroke-linejoin="round"/>
<path d="M597.4 641.8L523.89 751.44A132 132 0 0 1 465.40 641.80Z" fill="#b88a22" stroke="#fff" stroke-width="1" stroke-linejoin="round"/>
<g filter="url(#ts)">
<text transform="translate(632.4 573.0) scale(1 1.036)" font-size="13.6" text-anchor="middle" font-weight="bold" fill="#fff" textLength="46.4" lengthAdjust="spacingAndGlyphs" stroke="#fff" stroke-width=".45" stroke-linejoin="round">Utilized</text>
<text transform="translate(632.4 589.2) scale(1 1.036)" font-size="13.6" text-anchor="middle" font-weight="bold" fill="#fff" textLength="37.0" lengthAdjust="spacingAndGlyphs" stroke="#fff" stroke-width=".45" stroke-linejoin="round">65.6%</text>
</g>
<g filter="url(#ts)">
<text transform="translate(531.2 673.7) scale(1 1.036)" font-size="13.6" text-anchor="middle" font-weight="bold" fill="#fff" textLength="61.0" lengthAdjust="spacingAndGlyphs" stroke="#fff" stroke-width=".45" stroke-linejoin="round">Cancelled</text>
<text transform="translate(531.2 689.9) scale(1 1.036)" font-size="13.6" text-anchor="middle" font-weight="bold" fill="#fff" textLength="37.0" lengthAdjust="spacingAndGlyphs" stroke="#fff" stroke-width=".45" stroke-linejoin="round">15.6%</text>
</g>
<g filter="url(#ts)">
<text transform="translate(598.6 713.9) scale(1 1.036)" font-size="13.6" text-anchor="middle" font-weight="bold" fill="#fff" textLength="87.0" lengthAdjust="spacingAndGlyphs" stroke="#fff" stroke-width=".45" stroke-linejoin="round">Auto-released</text>
<text transform="translate(598.6 730.1) scale(1 1.036)" font-size="13.6" text-anchor="middle" font-weight="bold" fill="#fff" textLength="37.0" lengthAdjust="spacingAndGlyphs" stroke="#fff" stroke-width=".45" stroke-linejoin="round">18.8%</text>
</g>
<text transform="translate(919.0 508.2) scale(1 1.036)" font-size="20.0" fill="#3c4043" textLength="229.0" lengthAdjust="spacingAndGlyphs">Bookings by Day of Week</text>
<path transform="translate(1157.43 491.93) scale(0.8225)" d="M11 7h2v2h-2zm0 4h2v6h-2zm1-9C6.48 2 2 6.48 2 12s4.48 10 10 10 10-4.48 10-10S17.52 2 12 2zm0 18c-4.41 0-8-3.590-8-8s3.590-8 8-8 8 3.590 8 8-3.590 8-8 8z" fill="#5f6368" fill-rule="evenodd"/>
<path d="M819.9 553.8H1388.0" stroke="#e9ebee" stroke-width="1.2"/>
<path d="M819.9 610.8H1388.0" stroke="#e9ebee" stroke-width="1.2"/>
<path d="M819.9 668.4H1388.0" stroke="#e9ebee" stroke-width="1.2"/>
<path d="M819.9 726.5H1388.0" stroke="#d5d9e3" stroke-width="1.4"/>
<text transform="translate(811.1 559.4) scale(1 1.06)" font-size="13.2" text-anchor="end" fill="#4d5156">7,500</text>
<text transform="translate(811.1 617.0) scale(1 1.06)" font-size="13.2" text-anchor="end" fill="#4d5156">5,000</text>
<text transform="translate(811.1 674.5) scale(1 1.06)" font-size="13.2" text-anchor="end" fill="#4d5156">2,500</text>
<text transform="translate(811.1 732.1) scale(1 1.06)" font-size="13.2" text-anchor="end" fill="#4d5156">0</text>
<path d="M824.6 698.3H897.4V725.9H824.6ZM905.7 688.7H978.5V725.9H905.7ZM986.8 685.4H1059.6V725.9H986.8ZM1067.9 690.1H1140.7V725.9H1067.9ZM1149.0 715.7H1221.8V725.9H1149.0Z" fill="#0320d6"/>
<clipPath id="ac1"><rect x="856.0" y="325.9" width="496.6" height="400.9"/></clipPath>
<g clip-path="url(#ac1)"><polygon points="861.0,725.9 861.0,618.4 942.1,568.9 1023.2,552.4 1104.3,590.2 1185.4,702.7 1266.5,726.3 1347.6,726.3 1347.6,725.9" fill="rgba(0,167,152,0.40)"/>
<polyline points="861.0,618.4 942.1,568.9 1023.2,552.4 1104.3,590.2 1185.4,702.7 1266.5,726.3 1347.6,726.3" fill="none" stroke="#12a695" stroke-width="2.4" stroke-linejoin="round"/></g>
<text transform="translate(861.0 611.0) scale(1 1.036)" font-size="13.0" text-anchor="middle" font-weight="bold" fill="#10a593" textLength="33.4" lengthAdjust="spacingAndGlyphs" stroke-width=".55" stroke-linejoin="round" filter="url(#halo)" stroke="#10a593">4,694</text>
<text transform="translate(942.1 589.6) scale(1 1.036)" font-size="13.0" text-anchor="middle" font-weight="bold" fill="#10a593" textLength="33.4" lengthAdjust="spacingAndGlyphs" stroke-width=".55" stroke-linejoin="round" filter="url(#halo)" stroke="#10a593">6,843</text>
<text transform="translate(1023.2 573.3) scale(1 1.036)" font-size="13.0" text-anchor="middle" font-weight="bold" fill="#10a593" textLength="33.4" lengthAdjust="spacingAndGlyphs" stroke-width=".55" stroke-linejoin="round" filter="url(#halo)" stroke="#10a593">7,559</text>
<text transform="translate(1104.3 582.1) scale(1 1.036)" font-size="13.0" text-anchor="middle" font-weight="bold" fill="#10a593" textLength="33.4" lengthAdjust="spacingAndGlyphs" stroke-width=".55" stroke-linejoin="round" filter="url(#halo)" stroke="#10a593">5,920</text>
<text transform="translate(1266.5 718.5) scale(1 1.036)" font-size="13.0" text-anchor="middle" font-weight="bold" fill="#10a593" textLength="7.5" lengthAdjust="spacingAndGlyphs" stroke-width=".55" stroke-linejoin="round" filter="url(#halo)" stroke="#10a593">8</text>
<text transform="translate(1347.6 718.5) scale(1 1.036)" font-size="13.0" text-anchor="middle" font-weight="bold" fill="#10a593" textLength="7.5" lengthAdjust="spacingAndGlyphs" stroke-width=".55" stroke-linejoin="round" filter="url(#halo)" stroke="#10a593">8</text>
<text transform="translate(861.0 689.9) scale(1 1.036)" font-size="13.0" text-anchor="middle" font-weight="bold" fill="#0e34cf" textLength="33.4" lengthAdjust="spacingAndGlyphs" stroke-width=".55" stroke-linejoin="round" filter="url(#halo)" stroke="#0e34cf">1,223</text>
<text transform="translate(942.1 680.3) scale(1 1.036)" font-size="13.0" text-anchor="middle" font-weight="bold" fill="#0e34cf" textLength="33.4" lengthAdjust="spacingAndGlyphs" stroke-width=".55" stroke-linejoin="round" filter="url(#halo)" stroke="#0e34cf">1,640</text>
<text transform="translate(1023.2 677.0) scale(1 1.036)" font-size="13.0" text-anchor="middle" font-weight="bold" fill="#0e34cf" textLength="33.4" lengthAdjust="spacingAndGlyphs" stroke-width=".55" stroke-linejoin="round" filter="url(#halo)" stroke="#0e34cf">1,785</text>
<text transform="translate(1104.3 681.7) scale(1 1.036)" font-size="13.0" text-anchor="middle" font-weight="bold" fill="#0e34cf" textLength="33.4" lengthAdjust="spacingAndGlyphs" stroke-width=".55" stroke-linejoin="round" filter="url(#halo)" stroke="#0e34cf">1,580</text>
<text transform="translate(1185.4 708.3) scale(1 1.036)" font-size="13.0" text-anchor="middle" font-weight="bold" fill="#0e34cf" textLength="22.6" lengthAdjust="spacingAndGlyphs" stroke-width=".55" stroke-linejoin="round" filter="url(#halo)" stroke="#0e34cf">469</text>
<text transform="translate(861.0 748.3) scale(1 0.975)" font-size="13.6" text-anchor="middle" fill="#4d5156">Monday</text>
<text transform="translate(942.1 748.3) scale(1 0.975)" font-size="13.6" text-anchor="middle" fill="#4d5156">Tuesday</text>
<text transform="translate(1023.2 748.3) scale(1 0.975)" font-size="13.6" text-anchor="middle" fill="#4d5156">Wednesday</text>
<text transform="translate(1104.3 748.3) scale(1 0.975)" font-size="13.6" text-anchor="middle" fill="#4d5156">Thursday</text>
<text transform="translate(1185.4 748.3) scale(1 0.975)" font-size="13.6" text-anchor="middle" fill="#4d5156">Friday</text>
<text transform="translate(1266.5 748.3) scale(1 0.975)" font-size="13.6" text-anchor="middle" fill="#4d5156">Saturday</text>
<text transform="translate(1347.6 748.3) scale(1 0.975)" font-size="13.6" text-anchor="middle" fill="#4d5156">Sunday</text>
<rect x="986.1" y="783.6" width="16.5" height="4.7" fill="#9bddd6"/>
<rect x="985.6" y="781.1" width="17.5" height="3.1" rx="1.2" fill="#24ad9d"/>
<text transform="translate(1009.4 787.7) scale(1 0.955)" font-size="13.8" fill="#3c4043" textLength="56.2" lengthAdjust="spacingAndGlyphs">Bookings</text>
<circle cx="1098.5" cy="782.7" r="6.7" fill="#0a24d8"/>
<text transform="translate(1113.6 787.7) scale(1 0.955)" font-size="13.8" fill="#3c4043" textLength="66.0" lengthAdjust="spacingAndGlyphs">Employees</text>
<rect x="1526" y="347.3" width="1331.2" height="10" fill="url(#tsh)"/>
<text transform="translate(1702.4 383.2) scale(1 1.036)" font-size="20.8" fill="#3c4043" textLength="210.7" lengthAdjust="spacingAndGlyphs">Booking Creation Time</text>
<path transform="translate(1922.83 367.33) scale(0.8225)" d="M11 7h2v2h-2zm0 4h2v6h-2zm1-9C6.48 2 2 6.48 2 12s4.48 10 10 10 10-4.48 10-10S17.52 2 12 2zm0 18c-4.41 0-8-3.590-8-8s3.590-8 8-8 8 3.590 8 8-3.590 8-8 8z" fill="#5f6368" fill-rule="evenodd"/>
<path transform="translate(2091.38 360.93) scale(0.885)" d="M12 2C6.48 2 2 6.48 2 12s4.48 10 10 10 10-4.48 10-10S17.52 2 12 2zm0 18c-4.41 0-8-3.590-8-8s3.590-8 8-8 8 3.590 8 8-3.590 8-8 8zm-5.5-2.500l7.51-3.490L17.5 6.500 9.990 9.990 6.500 17.500zm5.5-6.600c.61 0 1.100.490 1.100 1.100s-.490 1.100-1.100 1.100-1.100-.490-1.100-1.100.490-1.100 1.100-1.100z" fill="#9aa0a6" fill-rule="evenodd"/>
<path transform="translate(2120.23 361.28) scale(0.885)" d="M10.01 21.01c0 1.100.890 1.990 1.990 1.990s1.990-.890 1.990-1.990h-3.980zm8.870-4.190V11c0-3.250-2.250-5.970-5.290-6.690v-.720C13.590 2.710 12.880 2 12 2s-1.590.710-1.590 1.590v.720C7.370 5.030 5.120 7.750 5.120 11v5.820L3 18.940V20h18v-1.060l-2.120-2.120zM16 13.010h-3v3h-2v-3H8V11h3V8h2v3h3v2.010z" fill="#9aa0a6" fill-rule="evenodd"/>
<path transform="translate(2149.38 360.93) scale(0.885)" d="M12 8c1.100 0 2-.900 2-2s-.900-2-2-2-2 .900-2 2 .900 2 2 2zm0 2c-1.100 0-2 .900-2 2s.900 2 2 2 2-.900 2-2-.900-2-2-2zm0 6c-1.100 0-2 .900-2 2s.900 2 2 2 2-.900 2-2-.900-2-2-2z" fill="#9aa0a6" fill-rule="evenodd"/>
<path d="M1600.0 444.9H2175.8" stroke="#e9ebee" stroke-width="1.2"/>
<path d="M1600.0 531.0H2175.8" stroke="#e9ebee" stroke-width="1.2"/>
<path d="M1600.0 617.0H2175.8" stroke="#e9ebee" stroke-width="1.2"/>
<path d="M1600.0 703.4H2175.8" stroke="#d5d9e3" stroke-width="1.4"/>
<text transform="translate(1590.3 449.5) scale(1 0.975)" font-size="13.6" text-anchor="end" fill="#4d5156">6,000</text>
<text transform="translate(1590.3 535.8) scale(1 0.975)" font-size="13.6" text-anchor="end" fill="#4d5156">4,000</text>
<text transform="translate(1590.3 621.9) scale(1 0.975)" font-size="13.6" text-anchor="end" fill="#4d5156">2,000</text>
<text transform="translate(1590.3 708.0) scale(1 0.975)" font-size="13.6" text-anchor="end" fill="#4d5156">0</text>
<path d="M1607.0 696.1H1628.0V702.8H1607.0ZM1630.6 699.5H1651.6V702.8H1630.6ZM1654.1 701.4H1675.1V702.8H1654.1ZM1724.8 700.9H1745.8V702.8H1724.8ZM1748.3 693.9H1769.3V702.8H1748.3ZM1771.9 671.8H1792.9V702.8H1771.9ZM1795.4 649.7H1816.4V702.8H1795.4ZM1819.0 640.5H1840.0V702.8H1819.0ZM1842.5 648.4H1863.5V702.8H1842.5ZM1866.1 659.3H1887.1V702.8H1866.1ZM1889.6 671.8H1910.6V702.8H1889.6ZM1913.2 679.9H1934.2V702.8H1913.2ZM1936.7 682.7H1957.7V702.8H1936.7ZM1960.3 687.2H1981.3V702.8H1960.3ZM1983.8 688.3H2004.8V702.8H1983.8ZM2007.4 690.8H2028.4V702.8H2007.4ZM2030.9 690.8H2051.9V702.8H2030.9ZM2054.5 692.8H2075.5V702.8H2054.5ZM2078.0 692.8H2099.0V702.8H2078.0ZM2101.6 690.8H2122.6V702.8H2101.6ZM2125.1 690.8H2146.1V702.8H2125.1ZM2148.7 693.9H2169.7V702.8H2148.7Z" fill="#0320d6"/>
<clipPath id="ac2"><rect x="1612.5" y="302.8" width="551.7" height="400.9"/></clipPath>
<g clip-path="url(#ac2)"><polygon points="1617.5,702.8 1617.5,684.4 1641.1,695.6 1664.6,698.9 1688.2,701.2 1711.7,701.7 1735.3,696.1 1758.8,678.3 1782.4,582.9 1805.9,447.4 1829.5,413.3 1853.0,478.1 1876.6,535.4 1900.1,599.7 1923.7,624.9 1947.2,636.1 1970.8,650.0 1994.3,658.4 2017.9,663.2 2041.4,657.0 2065.0,677.4 2088.5,678.0 2112.1,662.0 2135.6,665.4 2159.2,676.0 2159.2,702.8" fill="rgba(0,167,152,0.40)"/>
<polyline points="1617.5,684.4 1641.1,695.6 1664.6,698.9 1688.2,701.2 1711.7,701.7 1735.3,696.1 1758.8,678.3 1782.4,582.9 1805.9,447.4 1829.5,413.3 1853.0,478.1 1876.6,535.4 1900.1,599.7 1923.7,624.9 1947.2,636.1 1970.8,650.0 1994.3,658.4 2017.9,663.2 2041.4,657.0 2065.0,677.4 2088.5,678.0 2112.1,662.0 2135.6,665.4 2159.2,676.0" fill="none" stroke="#12a695" stroke-width="2.3" stroke-linejoin="round"/></g>
<text transform="translate(1617.2 726.1) scale(1 0.975)" font-size="13.7" text-anchor="middle" fill="#4d5156">0</text>
<text transform="translate(1735.0 726.1) scale(1 0.975)" font-size="13.7" text-anchor="middle" fill="#4d5156">5</text>
<text transform="translate(1852.7 726.1) scale(1 0.975)" font-size="13.7" text-anchor="middle" fill="#4d5156">10</text>
<text transform="translate(1970.5 726.1) scale(1 0.975)" font-size="13.7" text-anchor="middle" fill="#4d5156">15</text>
<text transform="translate(2088.2 726.1) scale(1 0.975)" font-size="13.7" text-anchor="middle" fill="#4d5156">20</text>
<text transform="translate(1888.1 747.9) scale(1 0.96)" font-size="13.6" text-anchor="middle" fill="#3c4043" textLength="95.8" lengthAdjust="spacingAndGlyphs">Hour of the Day</text>
<rect x="1768.8" y="783.2" width="16.5" height="4.7" fill="#9bddd6"/>
<rect x="1768.3" y="780.7" width="17.5" height="3.1" rx="1.2" fill="#24ad9d"/>
<text transform="translate(1792.6 787.3) scale(1 0.955)" font-size="13.8" fill="#3c4043" textLength="56.8" lengthAdjust="spacingAndGlyphs">Bookings</text>
<circle cx="1882.6" cy="782.3" r="6.7" fill="#0a24d8"/>
<text transform="translate(1898.0 787.3) scale(1 0.955)" font-size="13.8" fill="#3c4043" textLength="66.5" lengthAdjust="spacingAndGlyphs">Employees</text>
<text transform="translate(2288.4 383.2) scale(1 1.036)" font-size="20.8" fill="#3c4043" textLength="366.8" lengthAdjust="spacingAndGlyphs">How Far in Advance Bookings are Made</text>
<path transform="translate(2665.13 367.33) scale(0.8225)" d="M11 7h2v2h-2zm0 4h2v6h-2zm1-9C6.48 2 2 6.48 2 12s4.48 10 10 10 10-4.48 10-10S17.52 2 12 2zm0 18c-4.41 0-8-3.590-8-8s3.590-8 8-8 8 3.590 8 8-3.590 8-8 8z" fill="#5f6368" fill-rule="evenodd"/>
<path d="M2264.4 493.8H2832.0" stroke="#e9ebee" stroke-width="1.2"/>
<path d="M2264.4 583.2H2832.0" stroke="#e9ebee" stroke-width="1.2"/>
<path d="M2264.4 672.9H2832.0" stroke="#d5d9e3" stroke-width="1.4"/>
<text transform="translate(2254.9 498.4) scale(1 0.975)" font-size="13.6" text-anchor="end" fill="#4d5156">10,000</text>
<text transform="translate(2254.9 588.1) scale(1 0.975)" font-size="13.6" text-anchor="end" fill="#4d5156">5,000</text>
<text transform="translate(2254.9 677.8) scale(1 0.975)" font-size="13.6" text-anchor="end" fill="#4d5156">0</text>
<path d="M2268.3 634.7H2324.8V672.3H2268.3ZM2331.2 645.3H2387.7V672.3H2331.2ZM2394.7 653.7H2451.1V672.3H2394.7ZM2457.3 657.9H2514.0V672.3H2457.3ZM2521.0 655.6H2577.7V672.3H2521.0ZM2583.9 656.7H2640.3V672.3H2583.9ZM2646.5 660.4H2702.9V672.3H2646.5ZM2710.2 662.6H2766.7V672.3H2710.2ZM2772.8 666.2H2829.3V672.3H2772.8Z" fill="#0320d6"/>
<clipPath id="ac3"><rect x="2291.6" y="272.3" width="514.8" height="400.9"/></clipPath>
<g clip-path="url(#ac3)"><polygon points="2296.6,672.3 2296.6,413.0 2359.4,589.4 2422.6,629.6 2485.5,633.0 2548.9,619.6 2611.8,593.3 2674.7,608.1 2738.2,606.1 2801.3,648.1 2801.3,672.3" fill="rgba(0,167,152,0.40)"/>
<polyline points="2296.6,413.0 2359.4,589.4 2422.6,629.6 2485.5,633.0 2548.9,619.6 2611.8,593.3 2674.7,608.1 2738.2,606.1 2801.3,648.1" fill="none" stroke="#12a695" stroke-width="2.3" stroke-linejoin="round"/></g>
<text transform="translate(2298.1 691.0) rotate(-45) scale(1 0.975)" text-anchor="end" font-size="13.6" fill="#4d5156">within 1 hour</text>
<text transform="translate(2361.1 691.0) rotate(-45) scale(1 0.975)" text-anchor="end" font-size="13.6" fill="#4d5156">same day</text>
<text transform="translate(2424.2 691.0) rotate(-45) scale(1 0.975)" text-anchor="end" font-size="13.6" fill="#4d5156">1 day</text>
<text transform="translate(2487.3 691.0) rotate(-45) scale(1 0.975)" text-anchor="end" font-size="13.6" fill="#4d5156">2-3 days</text>
<text transform="translate(2550.4 691.0) rotate(-45) scale(1 0.975)" text-anchor="end" font-size="13.6" fill="#4d5156">4-7 days</text>
<text transform="translate(2613.5 691.0) rotate(-45) scale(1 0.975)" text-anchor="end" font-size="13.6" fill="#4d5156">1 week</text>
<text transform="translate(2676.6 691.0) rotate(-45) scale(1 0.975)" text-anchor="end" font-size="13.6" fill="#4d5156">2 weeks</text>
<text transform="translate(2739.6 691.0) rotate(-45) scale(1 0.975)" text-anchor="end" font-size="13.6" fill="#4d5156">3 weeks</text>
<text transform="translate(2802.7 691.0) rotate(-45) scale(1 0.975)" text-anchor="end" font-size="13.6" fill="#4d5156">4 weeks</text>
<rect x="2425.6" y="783.2" width="16.5" height="4.7" fill="#9bddd6"/>
<rect x="2425.1" y="780.7" width="17.5" height="3.1" rx="1.2" fill="#24ad9d"/>
<text transform="translate(2449.2 787.3) scale(1 0.955)" font-size="13.8" fill="#3c4043" textLength="56.8" lengthAdjust="spacingAndGlyphs">Bookings</text>
<circle cx="2539.4" cy="782.3" r="6.7" fill="#0a24d8"/>
<text transform="translate(2554.5 787.3) scale(1 0.955)" font-size="13.8" fill="#3c4043" textLength="67.0" lengthAdjust="spacingAndGlyphs">Employees</text>
</g>
<g clip-path="url(#c3)"><g filter="url(#soft)" stroke-width="0.35" class="p3">
<text transform="translate(1462.9 887.2) scale(1 1.036)" font-size="25" text-anchor="middle" font-weight="bold" fill="#3c4043" textLength="289.0" lengthAdjust="spacingAndGlyphs" stroke="#3c4043" stroke-width="0.9" stroke-linejoin="round" paint-order="stroke">Room Booking Statistics</text>
<text transform="translate(775.8 950.6) scale(1 1.036)" font-size="16.9" fill="#3c4043" textLength="169.1" lengthAdjust="spacingAndGlyphs">Booking Creation Time</text>
<path transform="translate(950.76 936.36) scale(0.77)" d="M11 7h2v2h-2zm0 4h2v6h-2zm1-9C6.48 2 2 6.48 2 12s4.48 10 10 10 10-4.48 10-10S17.52 2 12 2zm0 18c-4.41 0-8-3.590-8-8s3.590-8 8-8 8 3.590 8 8-3.590 8-8 8z" fill="#5f6368" fill-rule="evenodd"/>
<path transform="translate(1372.78 927.88) scale(0.809775)" d="M12 2C6.48 2 2 6.48 2 12s4.48 10 10 10 10-4.48 10-10S17.52 2 12 2zm0 18c-4.41 0-8-3.590-8-8s3.590-8 8-8 8 3.590 8 8-3.590 8-8 8zm-5.5-2.500l7.51-3.490L17.5 6.500 9.990 9.990 6.500 17.500zm5.5-6.600c.61 0 1.100.490 1.100 1.100s-.490 1.100-1.100 1.100-1.100-.490-1.100-1.100.490-1.100 1.100-1.100z" fill="#9aa0a6" fill-rule="evenodd"/>
<path transform="translate(1397.38 928.20) scale(0.809775)" d="M10.01 21.01c0 1.100.890 1.990 1.990 1.990s1.990-.890 1.990-1.990h-3.980zm8.870-4.190V11c0-3.250-2.250-5.970-5.290-6.690v-.720C13.590 2.710 12.880 2 12 2s-1.590.710-1.590 1.590v.720C7.370 5.030 5.120 7.750 5.120 11v5.820L3 18.940V20h18v-1.060l-2.120-2.120zM16 13.010h-3v3h-2v-3H8V11h3V8h2v3h3v2.010z" fill="#9aa0a6" fill-rule="evenodd"/>
<path transform="translate(1419.28 927.88) scale(0.809775)" d="M12 8c1.100 0 2-.900 2-2s-.900-2-2-2-2 .900-2 2 .900 2 2 2zm0 2c-1.100 0-2 .900-2 2s.900 2 2 2 2-.900 2-2-.900-2-2-2zm0 6c-1.100 0-2 .900-2 2s.900 2 2 2 2-.900 2-2-.900-2-2-2z" fill="#9aa0a6" fill-rule="evenodd"/>
<path d="M408.8 1026.4H1445.0" stroke="#eff0f3" stroke-width="1.2"/>
<path d="M408.8 1080.9H1445.0" stroke="#eff0f3" stroke-width="1.2"/>
<path d="M408.8 1135.1H1445.0" stroke="#eff0f3" stroke-width="1.2"/>
<path d="M408.8 1189.0H1445.0" stroke="#d5d9e3" stroke-width="1.4"/>
<text transform="translate(400.1 1031.0) scale(1 1.036)" font-size="16.6" text-anchor="end" fill="#4d5156">300</text>
<text transform="translate(400.1 1085.5) scale(1 1.036)" font-size="16.6" text-anchor="end" fill="#4d5156">200</text>
<text transform="translate(400.1 1139.4) scale(1 1.036)" font-size="16.6" text-anchor="end" fill="#4d5156">100</text>
<text transform="translate(400.1 1193.4) scale(1 1.036)" font-size="16.6" text-anchor="end" fill="#4d5156">0</text>
<path d="M420.4 1180.9H459.0V1188.4H420.4ZM462.8 1183.2H501.4V1188.4H462.8ZM505.2 1185.1H543.8V1188.4H505.2ZM547.6 1186.2H586.2V1188.4H547.6ZM590.0 1186.2H628.6V1188.4H590.0ZM632.4 1184.6H671.0V1188.4H632.4ZM674.8 1174.2H713.4V1188.4H674.8ZM717.2 1157.2H755.8V1188.4H717.2ZM759.7 1123.1H798.3V1188.4H759.7ZM802.1 1095.7H840.7V1188.4H802.1ZM844.5 1080.6H883.1V1188.4H844.5ZM886.9 1081.7H925.5V1188.4H886.9ZM929.3 1106.0H967.9V1188.4H929.3ZM971.7 1102.4H1010.3V1188.4H971.7ZM1014.1 1100.7H1052.7V1188.4H1014.1ZM1056.5 1125.0H1095.1V1188.4H1056.5ZM1098.9 1143.5H1137.5V1188.4H1098.9ZM1141.3 1156.9H1179.9V1188.4H1141.3ZM1183.7 1165.0H1222.3V1188.4H1183.7ZM1226.1 1170.0H1264.7V1188.4H1226.1ZM1268.5 1170.0H1307.1V1188.4H1268.5ZM1310.9 1173.7H1349.5V1188.4H1310.9ZM1353.3 1172.3H1391.9V1188.4H1353.3ZM1395.7 1179.3H1434.3V1188.4H1395.7Z" fill="#0320d6"/>
<clipPath id="ac4"><rect x="434.7" y="788.4" width="985.3" height="400.9"/></clipPath>
<g clip-path="url(#ac4)"><polygon points="439.7,1188.4 439.7,1176.5 482.1,1181.5 524.5,1184.6 566.9,1186.2 609.3,1186.0 651.7,1183.4 694.1,1163.0 736.5,1126.7 779.0,1059.6 821.4,1009.9 863.8,977.2 906.2,977.7 948.6,1041.5 991.0,1035.0 1033.4,1041.7 1075.8,1082.0 1118.2,1121.7 1160.6,1122.2 1203.0,1150.7 1245.4,1149.9 1287.8,1160.5 1330.2,1160.8 1372.6,1165.0 1415.0,1168.6 1415.0,1188.4" fill="rgba(0,167,152,0.40)"/>
<polyline points="439.7,1176.5 482.1,1181.5 524.5,1184.6 566.9,1186.2 609.3,1186.0 651.7,1183.4 694.1,1163.0 736.5,1126.7 779.0,1059.6 821.4,1009.9 863.8,977.2 906.2,977.7 948.6,1041.5 991.0,1035.0 1033.4,1041.7 1075.8,1082.0 1118.2,1121.7 1160.6,1122.2 1203.0,1150.7 1245.4,1149.9 1287.8,1160.5 1330.2,1160.8 1372.6,1165.0 1415.0,1168.6" fill="none" stroke="#12a695" stroke-width="1.6" stroke-linejoin="round"/></g>
<text transform="translate(438.9 1210.6) scale(1 1.036)" font-size="16.6" text-anchor="middle" fill="#4d5156">0</text>
<text transform="translate(523.7 1210.6) scale(1 1.036)" font-size="16.6" text-anchor="middle" fill="#4d5156">2</text>
<text transform="translate(608.5 1210.6) scale(1 1.036)" font-size="16.6" text-anchor="middle" fill="#4d5156">4</text>
<text transform="translate(693.3 1210.6) scale(1 1.036)" font-size="16.6" text-anchor="middle" fill="#4d5156">6</text>
<text transform="translate(778.2 1210.6) scale(1 1.036)" font-size="16.6" text-anchor="middle" fill="#4d5156">8</text>
<text transform="translate(863.0 1210.6) scale(1 1.036)" font-size="16.6" text-anchor="middle" fill="#4d5156">10</text>
<text transform="translate(947.8 1210.6) scale(1 1.036)" font-size="16.6" text-anchor="middle" fill="#4d5156">12</text>
<text transform="translate(1032.6 1210.6) scale(1 1.036)" font-size="16.6" text-anchor="middle" fill="#4d5156">14</text>
<text transform="translate(1117.4 1210.6) scale(1 1.036)" font-size="16.6" text-anchor="middle" fill="#4d5156">16</text>
<text transform="translate(1202.2 1210.6) scale(1 1.036)" font-size="16.6" text-anchor="middle" fill="#4d5156">18</text>
<text transform="translate(1287.0 1210.6) scale(1 1.036)" font-size="16.6" text-anchor="middle" fill="#4d5156">20</text>
<text transform="translate(1371.8 1210.6) scale(1 1.036)" font-size="16.6" text-anchor="middle" fill="#4d5156">22</text>
<text transform="translate(926.3 1234.6) scale(1 1.036)" font-size="16.6" text-anchor="middle" fill="#3c4043" textLength="115.4" lengthAdjust="spacingAndGlyphs">Hour of the Day</text>
<rect x="804.4" y="1268.7" width="15.5" height="4.7" fill="#9bddd6"/>
<rect x="803.9" y="1265.2" width="16.5" height="4.1" rx="1.2" fill="#45bcae"/>
<text transform="translate(824.0 1271.6) scale(1 1.036)" font-size="16.8" fill="#3c4043" textLength="69.6" lengthAdjust="spacingAndGlyphs">Bookings</text>
<circle cx="920.4" cy="1265.6" r="8.3" fill="#0a24d8"/>
<text transform="translate(933.4 1271.6) scale(1 1.036)" font-size="16.8" fill="#3c4043" textLength="81.0" lengthAdjust="spacingAndGlyphs">Employees</text>
<text transform="translate(1898.4 950.6) scale(1 1.036)" font-size="16.9" fill="#3c4043" textLength="141.6" lengthAdjust="spacingAndGlyphs">Booking Start Time</text>
<path transform="translate(2046.36 936.36) scale(0.77)" d="M11 7h2v2h-2zm0 4h2v6h-2zm1-9C6.48 2 2 6.48 2 12s4.48 10 10 10 10-4.48 10-10S17.52 2 12 2zm0 18c-4.41 0-8-3.590-8-8s3.590-8 8-8 8 3.590 8 8-3.590 8-8 8z" fill="#5f6368" fill-rule="evenodd"/>
<path d="M1510.4 1009.6H2546.4" stroke="#eff0f3" stroke-width="1.2"/>
<path d="M1510.4 1054.6H2546.4" stroke="#eff0f3" stroke-width="1.2"/>
<path d="M1510.4 1099.3H2546.4" stroke="#eff0f3" stroke-width="1.2"/>
<path d="M1510.4 1144.3H2546.4" stroke="#eff0f3" stroke-width="1.2"/>
<path d="M1510.4 1189.0H2546.4" stroke="#d5d9e3" stroke-width="1.4"/>
<text transform="translate(1502.5 1013.7) scale(1 1.036)" font-size="16.6" text-anchor="end" fill="#4d5156">400</text>
<text transform="translate(1502.5 1058.4) scale(1 1.036)" font-size="16.6" text-anchor="end" fill="#4d5156">300</text>
<text transform="translate(1502.5 1103.4) scale(1 1.036)" font-size="16.6" text-anchor="end" fill="#4d5156">200</text>
<text transform="translate(1502.5 1148.4) scale(1 1.036)" font-size="16.6" text-anchor="end" fill="#4d5156">100</text>
<text transform="translate(1502.5 1193.4) scale(1 1.036)" font-size="16.6" text-anchor="end" fill="#4d5156">0</text>
<path d="M1819.1 1183.4H1857.7V1188.4H1819.1ZM1861.4 1162.5H1900.0V1188.4H1861.4ZM1903.8 1128.7H1942.4V1188.4H1903.8ZM1946.2 1105.2H1984.8V1188.4H1946.2ZM1988.6 1095.7H2027.2V1188.4H1988.6ZM2031.0 1119.2H2069.6V1188.4H2031.0ZM2073.3 1112.5H2111.9V1188.4H2073.3ZM2115.7 1091.8H2154.3V1188.4H2115.7ZM2158.1 1108.0H2196.7V1188.4H2158.1ZM2200.5 1141.8H2239.1V1188.4H2200.5ZM2242.9 1166.1H2281.5V1188.4H2242.9ZM2285.2 1178.7H2323.8V1188.4H2285.2ZM2327.6 1181.2H2366.2V1188.4H2327.6ZM2370.0 1184.3H2408.6V1188.4H2370.0ZM2412.4 1185.7H2451.0V1188.4H2412.4ZM2454.8 1185.4H2493.4V1188.4H2454.8Z" fill="#0320d6"/>
<clipPath id="ac5"><rect x="1536.7" y="788.4" width="984.7" height="400.9"/></clipPath>
<g clip-path="url(#ac5)"><polygon points="1541.7,1188.4 1541.7,1187.6 1584.1,1187.6 1626.5,1187.6 1668.8,1187.6 1711.2,1187.6 1753.6,1187.6 1796.0,1187.6 1838.4,1170.3 1880.7,1130.9 1923.1,1050.1 1965.5,1025.0 2007.9,983.6 2050.3,1044.8 2092.6,1049.0 2135.0,977.2 2177.4,1024.7 2219.8,1109.9 2262.2,1146.3 2304.5,1168.1 2346.9,1178.4 2389.3,1183.4 2431.7,1186.0 2474.1,1185.4 2516.4,1187.6 2516.4,1188.4" fill="rgba(0,167,152,0.40)"/>
<polyline points="1541.7,1187.6 1584.1,1187.6 1626.5,1187.6 1668.8,1187.6 1711.2,1187.6 1753.6,1187.6 1796.0,1187.6 1838.4,1170.3 1880.7,1130.9 1923.1,1050.1 1965.5,1025.0 2007.9,983.6 2050.3,1044.8 2092.6,1049.0 2135.0,977.2 2177.4,1024.7 2219.8,1109.9 2262.2,1146.3 2304.5,1168.1 2346.9,1178.4 2389.3,1183.4 2431.7,1186.0 2474.1,1185.4 2516.4,1187.6" fill="none" stroke="#12a695" stroke-width="1.6" stroke-linejoin="round"/></g>
<text transform="translate(1540.9 1210.6) scale(1 1.036)" font-size="16.6" text-anchor="middle" fill="#4d5156">0</text>
<text transform="translate(1625.7 1210.6) scale(1 1.036)" font-size="16.6" text-anchor="middle" fill="#4d5156">2</text>
<text transform="translate(1710.4 1210.6) scale(1 1.036)" font-size="16.6" text-anchor="middle" fill="#4d5156">4</text>
<text transform="translate(1795.2 1210.6) scale(1 1.036)" font-size="16.6" text-anchor="middle" fill="#4d5156">6</text>
<text transform="translate(1879.9 1210.6) scale(1 1.036)" font-size="16.6" text-anchor="middle" fill="#4d5156">8</text>
<text transform="translate(1964.7 1210.6) scale(1 1.036)" font-size="16.6" text-anchor="middle" fill="#4d5156">10</text>
<text transform="translate(2049.5 1210.6) scale(1 1.036)" font-size="16.6" text-anchor="middle" fill="#4d5156">12</text>
<text transform="translate(2134.2 1210.6) scale(1 1.036)" font-size="16.6" text-anchor="middle" fill="#4d5156">14</text>
<text transform="translate(2219.0 1210.6) scale(1 1.036)" font-size="16.6" text-anchor="middle" fill="#4d5156">16</text>
<text transform="translate(2303.7 1210.6) scale(1 1.036)" font-size="16.6" text-anchor="middle" fill="#4d5156">18</text>
<text transform="translate(2388.5 1210.6) scale(1 1.036)" font-size="16.6" text-anchor="middle" fill="#4d5156">20</text>
<text transform="translate(2473.3 1210.6) scale(1 1.036)" font-size="16.6" text-anchor="middle" fill="#4d5156">22</text>
<text transform="translate(2028.6 1234.6) scale(1 1.036)" font-size="16.6" text-anchor="middle" fill="#3c4043" textLength="115.4" lengthAdjust="spacingAndGlyphs">Hour of the Day</text>
<rect x="1904.8" y="1268.7" width="15.5" height="4.7" fill="#9bddd6"/>
<rect x="1904.3" y="1265.2" width="16.5" height="4.1" rx="1.2" fill="#45bcae"/>
<text transform="translate(1925.6 1271.6) scale(1 1.036)" font-size="16.8" fill="#3c4043" textLength="69.6" lengthAdjust="spacingAndGlyphs">Bookings</text>
<circle cx="2021.9" cy="1265.6" r="8.3" fill="#0a24d8"/>
<text transform="translate(2035.3 1271.6) scale(1 1.036)" font-size="16.8" fill="#3c4043" textLength="81.0" lengthAdjust="spacingAndGlyphs">Employees</text>
<text transform="translate(719.0 1340.0) scale(1 1.036)" font-size="16.9" fill="#3c4043" textLength="295.9" lengthAdjust="spacingAndGlyphs">How Far in Advance Bookings are Made</text>
<path transform="translate(1021.76 1325.46) scale(0.77)" d="M11 7h2v2h-2zm0 4h2v6h-2zm1-9C6.48 2 2 6.48 2 12s4.48 10 10 10 10-4.48 10-10S17.52 2 12 2zm0 18c-4.41 0-8-3.590-8-8s3.590-8 8-8 8 3.590 8 8-3.590 8-8 8z" fill="#5f6368" fill-rule="evenodd"/>
<path d="M421.7 1408.2H1444.5" stroke="#eff0f3" stroke-width="1.2"/>
<path d="M421.7 1456.6H1444.5" stroke="#eff0f3" stroke-width="1.2"/>
<path d="M421.7 1505.2H1444.5" stroke="#eff0f3" stroke-width="1.2"/>
<path d="M421.7 1552.7H1444.5" stroke="#eff0f3" stroke-width="1.2"/>
<path d="M421.7 1600.8H1444.5" stroke="#d5d9e3" stroke-width="1.4"/>
<text transform="translate(413.5 1411.7) scale(1 1.036)" font-size="16.6" text-anchor="end" fill="#4d5156">1,000</text>
<text transform="translate(413.5 1460.6) scale(1 1.036)" font-size="16.6" text-anchor="end" fill="#4d5156">750</text>
<text transform="translate(413.5 1509.3) scale(1 1.036)" font-size="16.6" text-anchor="end" fill="#4d5156">500</text>
<text transform="translate(413.5 1557.9) scale(1 1.036)" font-size="16.6" text-anchor="end" fill="#4d5156">250</text>
<text transform="translate(413.5 1605.1) scale(1 1.036)" font-size="16.6" text-anchor="end" fill="#4d5156">0</text>
<path d="M429.2 1527.6H560.8V1600.2H429.2ZM575.5 1523.7H707.1V1600.2H575.5ZM721.7 1576.5H853.3V1600.2H721.7ZM868.0 1583.2H999.6V1600.2H868.0ZM1014.2 1587.1H1145.8V1600.2H1014.2ZM1160.5 1591.3H1292.1V1600.2H1160.5ZM1306.7 1593.0H1438.3V1600.2H1306.7Z" fill="#0320d6"/>
<clipPath id="ac6"><rect x="490.0" y="1200.2" width="887.5" height="400.9"/></clipPath>
<g clip-path="url(#ac6)"><polygon points="495.0,1600.2 495.0,1387.8 641.3,1366.3 787.5,1559.1 933.8,1570.3 1080.0,1568.9 1226.3,1583.7 1372.5,1561.4 1372.5,1600.2" fill="rgba(0,167,152,0.40)"/>
<polyline points="495.0,1387.8 641.3,1366.3 787.5,1559.1 933.8,1570.3 1080.0,1568.9 1226.3,1583.7 1372.5,1561.4" fill="none" stroke="#12a695" stroke-width="1.6" stroke-linejoin="round"/></g>
<text transform="translate(494.0 1622.3) scale(1 1.036)" font-size="16.6" text-anchor="middle" fill="#4d5156">within 1 hour</text>
<text transform="translate(640.3 1622.3) scale(1 1.036)" font-size="16.6" text-anchor="middle" fill="#4d5156">same day</text>
<text transform="translate(786.5 1622.3) scale(1 1.036)" font-size="16.6" text-anchor="middle" fill="#4d5156">1 day</text>
<text transform="translate(932.8 1622.3) scale(1 1.036)" font-size="16.6" text-anchor="middle" fill="#4d5156">2-3 days</text>
<text transform="translate(1079.0 1622.3) scale(1 1.036)" font-size="16.6" text-anchor="middle" fill="#4d5156">4-7 days</text>
<text transform="translate(1225.3 1622.3) scale(1 1.036)" font-size="16.6" text-anchor="middle" fill="#4d5156">1 week</text>
<text transform="translate(1371.5 1622.3) scale(1 1.036)" font-size="16.6" text-anchor="middle" fill="#4d5156">2 weeks+</text>
<rect x="803.7" y="1658.5" width="15.5" height="4.7" fill="#9bddd6"/>
<rect x="803.2" y="1655.0" width="16.5" height="4.1" rx="1.2" fill="#45bcae"/>
<text transform="translate(823.9 1661.4) scale(1 1.036)" font-size="16.8" fill="#3c4043" textLength="69.6" lengthAdjust="spacingAndGlyphs">Bookings</text>
<circle cx="920.3" cy="1655.4" r="8.3" fill="#0a24d8"/>
<text transform="translate(933.7 1661.4) scale(1 1.036)" font-size="16.8" fill="#3c4043" textLength="81.1" lengthAdjust="spacingAndGlyphs">Employees</text>
</g></g>
</svg>
</div></body></html>
